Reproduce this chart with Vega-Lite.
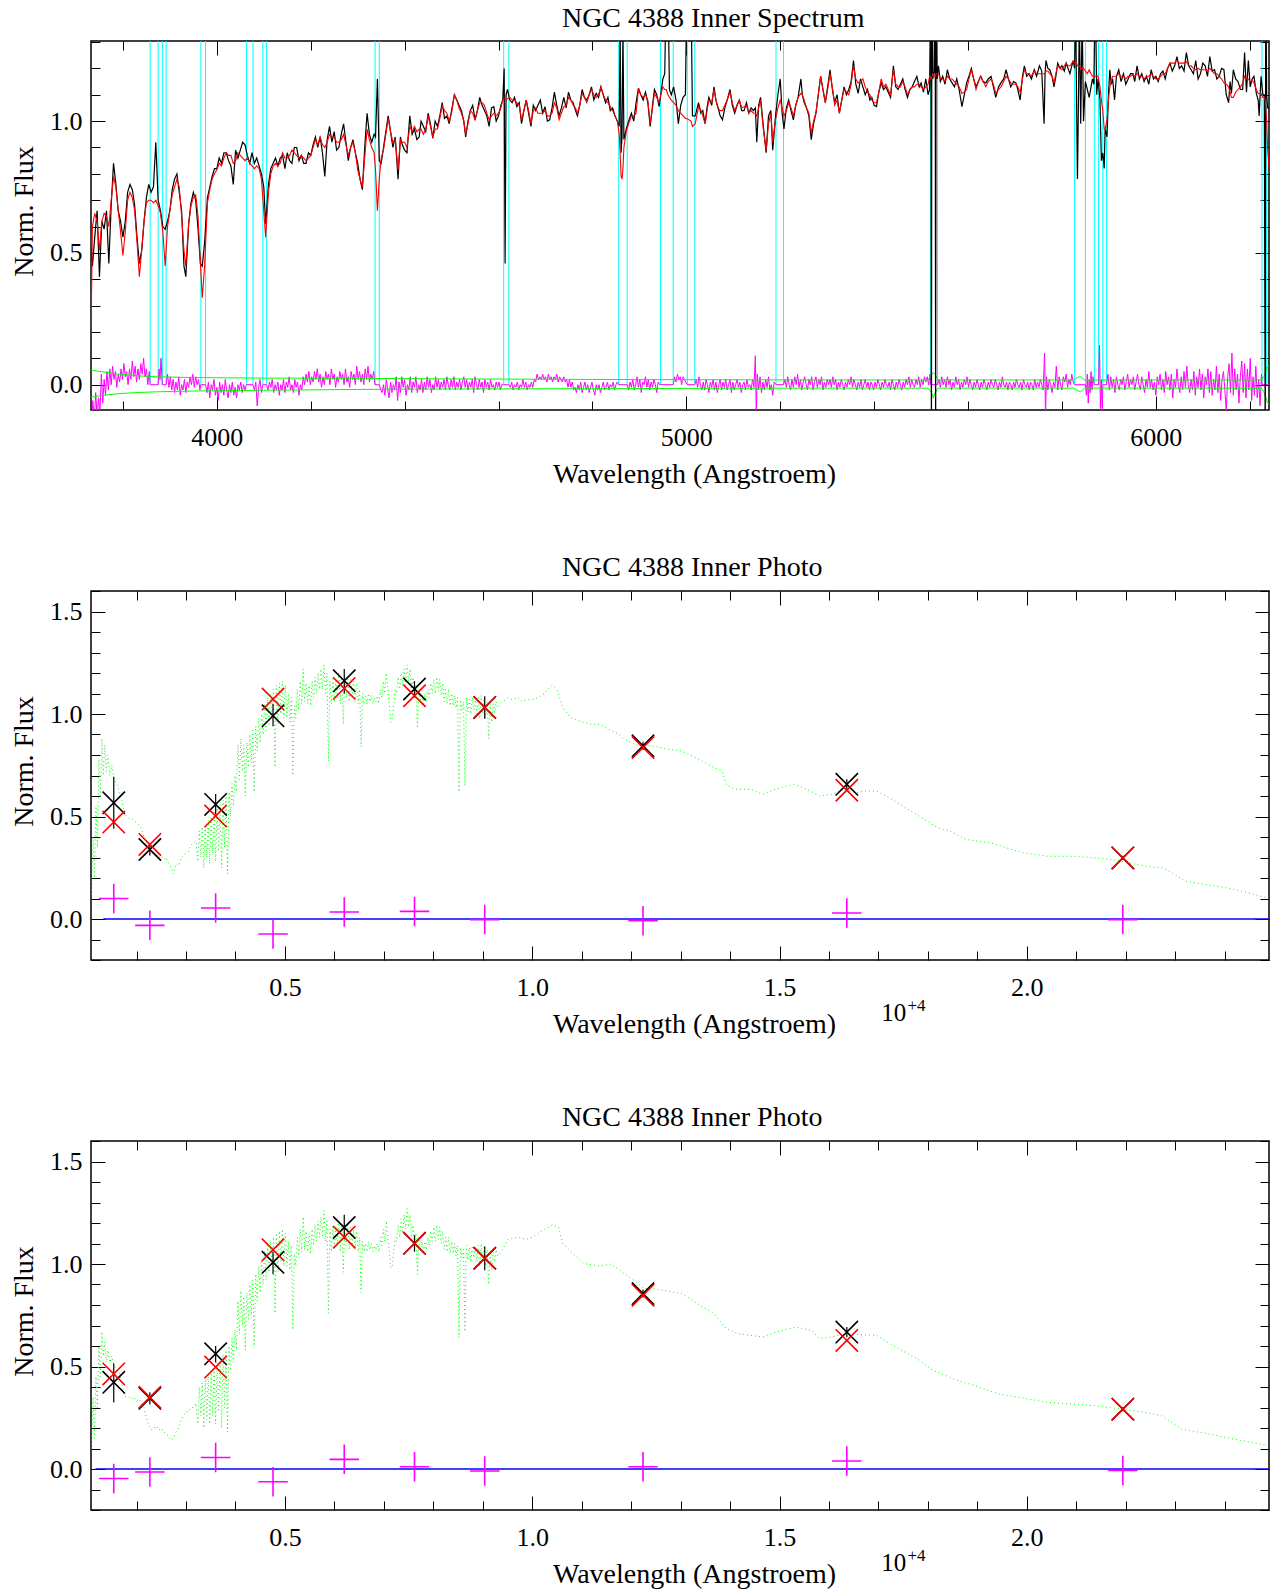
{
  "$schema": "https://vega.github.io/schema/vega-lite/v6.json",
  "padding": {"left": 9, "top": 3, "right": 8, "bottom": 0},
  "spacing": 181,
  "bounds": "flush",
  "config": {
    "font": "Liberation Serif",
    "view": {"stroke": "#000000", "strokeWidth": 1.5},
    "axis": {"domain": false, "grid": false, "minExtent": 0, "tickColor": "#000000", "tickWidth": 1, "labelFont": "Liberation Serif", "labelFontSize": 26, "labelColor": "#000000", "titleFont": "Liberation Serif", "titleFontSize": 28, "titleFontWeight": "normal", "titleColor": "#000000", "labelOverlap": false, "labelFlush": false, "labelBound": false},
    "text": {"font": "Liberation Serif", "color": "#000000"}
  },
  "datasets": {
    "spec": [
      {"w":3732,"o":0.52,"m":0.18},{"w":3735,"o":0.45,"m":0.60},{"w":3740,"o":0.56,"m":0.65},{"w":3745,"o":0.66,"m":0.62},{"w":3750,"o":0.41,"m":0.51},{"w":3755,"o":0.62,"m":0.62},{"w":3760,"o":0.59,"m":0.65},{"w":3765,"o":0.66,"m":0.64},{"w":3770,"o":0.46,"m":0.60},{"w":3775,"o":0.68,"m":0.70},{"w":3780,"o":0.84,"m":0.79},{"w":3785,"o":0.76,"m":0.75},{"w":3790,"o":0.66,"m":0.66},{"w":3795,"o":0.62,"m":0.58},{"w":3800,"o":0.56,"m":0.49},{"w":3805,"o":0.62,"m":0.58},{"w":3810,"o":0.73,"m":0.70},{"w":3815,"o":0.76,"m":0.73},{"w":3820,"o":0.74,"m":0.71},{"w":3825,"o":0.68,"m":0.66},{"w":3830,"o":0.56,"m":0.54},{"w":3835,"o":0.46,"m":0.41},{"w":3840,"o":0.51,"m":0.51},{"w":3845,"o":0.62,"m":0.62},{"w":3850,"o":0.71,"m":0.69},{"w":3855,"o":0.76,"m":0.70},{"w":3860,"o":0.73,"m":0.70},{"w":3865,"o":0.75,"m":0.69},{"w":3870,"o":0.92,"m":0.70},{"w":3875,"o":0.70,"m":0.68},{"w":3880,"o":0.66,"m":0.65},{"w":3885,"o":0.60,"m":0.58},{"w":3890,"o":0.59,"m":0.45},{"w":3895,"o":0.62,"m":0.60},{"w":3900,"o":0.66,"m":0.66},{"w":3905,"o":0.74,"m":0.72},{"w":3910,"o":0.78,"m":0.75},{"w":3915,"o":0.80,"m":0.78},{"w":3920,"o":0.73,"m":0.75},{"w":3925,"o":0.66,"m":0.64},{"w":3930,"o":0.45,"m":0.51},{"w":3934,"o":0.41,"m":0.45},{"w":3940,"o":0.61,"m":0.61},{"w":3945,"o":0.69,"m":0.68},{"w":3950,"o":0.73,"m":0.71},{"w":3955,"o":0.70,"m":0.72},{"w":3960,"o":0.59,"m":0.64},{"w":3965,"o":0.46,"m":0.46},{"w":3969,"o":0.45,"m":0.33},{"w":3974,"o":0.54,"m":0.45},{"w":3980,"o":0.71,"m":0.69},{"w":3985,"o":0.75,"m":0.74},{"w":3990,"o":0.79,"m":0.78},{"w":3995,"o":0.82,"m":0.80},{"w":4000,"o":0.82,"m":0.815},{"w":4005,"o":0.86,"m":0.84},{"w":4010,"o":0.84,"m":0.83},{"w":4015,"o":0.88,"m":0.86},{"w":4020,"o":0.88,"m":0.88},{"w":4025,"o":0.85,"m":0.87},{"w":4030,"o":0.83,"m":0.87},{"w":4035,"o":0.76,"m":0.84},{"w":4040,"o":0.89,"m":0.85},{"w":4045,"o":0.86,"m":0.88},{"w":4050,"o":0.89,"m":0.87},{"w":4055,"o":0.92,"m":0.86},{"w":4060,"o":0.91,"m":0.85},{"w":4065,"o":0.87,"m":0.86},{"w":4070,"o":0.84,"m":0.84},{"w":4075,"o":0.88,"m":0.83},{"w":4080,"o":0.84,"m":0.82},{"w":4085,"o":0.86,"m":0.83},{"w":4090,"o":0.83,"m":0.82},{"w":4095,"o":0.80,"m":0.78},{"w":4100,"o":0.75,"m":0.66},{"w":4104,"o":0.61,"m":0.56},{"w":4110,"o":0.76,"m":0.73},{"w":4115,"o":0.82,"m":0.80},{"w":4120,"o":0.84,"m":0.83},{"w":4125,"o":0.86,"m":0.84},{"w":4130,"o":0.83,"m":0.83},{"w":4135,"o":0.86,"m":0.84},{"w":4140,"o":0.87,"m":0.88},{"w":4145,"o":0.82,"m":0.86},{"w":4150,"o":0.88,"m":0.86},{"w":4155,"o":0.85,"m":0.87},{"w":4160,"o":0.84,"m":0.89},{"w":4165,"o":0.90,"m":0.88},{"w":4170,"o":0.90,"m":0.87},{"w":4175,"o":0.85,"m":0.86},{"w":4180,"o":0.87,"m":0.87},{"w":4185,"o":0.84,"m":0.86},{"w":4190,"o":0.84,"m":0.85},{"w":4195,"o":0.88,"m":0.86},{"w":4200,"o":0.87,"m":0.87},{"w":4205,"o":0.91,"m":0.90},{"w":4210,"o":0.94,"m":0.93},{"w":4215,"o":0.90,"m":0.91},{"w":4220,"o":0.94,"m":0.94},{"w":4225,"o":0.88,"m":0.91},{"w":4230,"o":0.79,"m":0.90},{"w":4235,"o":0.93,"m":0.92},{"w":4240,"o":0.98,"m":0.95},{"w":4245,"o":0.92,"m":0.94},{"w":4250,"o":0.96,"m":0.94},{"w":4255,"o":0.89,"m":0.92},{"w":4260,"o":0.90,"m":0.92},{"w":4265,"o":0.95,"m":0.93},{"w":4270,"o":0.99,"m":0.95},{"w":4275,"o":0.92,"m":0.91},{"w":4280,"o":0.85,"m":0.87},{"w":4285,"o":0.90,"m":0.90},{"w":4290,"o":0.93,"m":0.92},{"w":4295,"o":0.88,"m":0.88},{"w":4300,"o":0.84,"m":0.815},{"w":4305,"o":0.78,"m":0.78},{"w":4310,"o":0.74,"m":0.75},{"w":4315,"o":0.90,"m":0.86},{"w":4320,"o":1.03,"m":0.97},{"w":4325,"o":0.95,"m":0.93},{"w":4330,"o":0.92,"m":0.90},{"w":4335,"o":0.95,"m":0.88},{"w":4338,"o":0.94,"m":0.815},{"w":4342,"o":1.16,"m":0.66},{"w":4346,"o":0.85,"m":0.78},{"w":4350,"o":0.84,"m":0.86},{"w":4355,"o":0.90,"m":0.89},{"w":4360,"o":0.96,"m":0.95},{"w":4365,"o":1.02,"m":1.01},{"w":4370,"o":0.96,"m":0.96},{"w":4375,"o":0.90,"m":0.92},{"w":4380,"o":0.94,"m":0.93},{"w":4386,"o":0.78,"m":0.815},{"w":4391,"o":0.94,"m":0.93},{"w":4395,"o":0.91,"m":0.92},{"w":4400,"o":0.89,"m":0.92},{"w":4405,"o":0.88,"m":0.90},{"w":4411,"o":1.02,"m":0.98},{"w":4416,"o":0.95,"m":0.96},{"w":4421,"o":0.97,"m":0.98},{"w":4426,"o":0.93,"m":0.96},{"w":4431,"o":0.94,"m":0.97},{"w":4435,"o":1.00,"m":0.97},{"w":4440,"o":0.98,"m":0.95},{"w":4445,"o":0.96,"m":0.97},{"w":4450,"o":1.03,"m":1.02},{"w":4455,"o":0.99,"m":0.98},{"w":4460,"o":0.935,"m":0.94},{"w":4465,"o":1.00,"m":0.97},{"w":4470,"o":0.98,"m":0.97},{"w":4475,"o":1.02,"m":1.01},{"w":4480,"o":1.07,"m":1.06},{"w":4485,"o":1.01,"m":1.04},{"w":4490,"o":1.02,"m":1.03},{"w":4495,"o":0.99,"m":1.00},{"w":4500,"o":1.04,"m":1.03},{"w":4506,"o":1.10,"m":1.10},{"w":4511,"o":1.08,"m":1.08},{"w":4516,"o":1.06,"m":1.05},{"w":4521,"o":1.04,"m":1.03},{"w":4526,"o":1.00,"m":1.00},{"w":4530,"o":0.94,"m":0.95},{"w":4535,"o":1.00,"m":0.99},{"w":4540,"o":1.04,"m":1.04},{"w":4545,"o":1.06,"m":1.03},{"w":4550,"o":1.005,"m":1.005},{"w":4555,"o":1.04,"m":1.04},{"w":4560,"o":1.09,"m":1.07},{"w":4565,"o":1.06,"m":1.07},{"w":4570,"o":1.04,"m":1.06},{"w":4575,"o":1.02,"m":1.03},{"w":4580,"o":0.98,"m":1.005},{"w":4585,"o":1.05,"m":1.02},{"w":4590,"o":1.055,"m":1.03},{"w":4595,"o":1.00,"m":1.02},{"w":4600,"o":1.02,"m":1.03},{"w":4605,"o":1.06,"m":1.05},{"w":4609,"o":1.08,"m":1.08},{"w":4612,"o":1.20,"m":1.085},{"w":4614,"o":0.46,"m":1.085},{"w":4616,"o":1.10,"m":1.08},{"w":4619,"o":1.12,"m":1.085},{"w":4624,"o":1.08,"m":1.09},{"w":4629,"o":1.07,"m":1.08},{"w":4634,"o":1.09,"m":1.08},{"w":4639,"o":1.055,"m":1.07},{"w":4644,"o":1.07,"m":1.06},{"w":4649,"o":0.99,"m":1.005},{"w":4654,"o":1.04,"m":1.04},{"w":4659,"o":1.08,"m":1.08},{"w":4664,"o":1.03,"m":1.04},{"w":4669,"o":0.98,"m":0.99},{"w":4674,"o":1.06,"m":1.04},{"w":4679,"o":1.04,"m":1.05},{"w":4684,"o":1.06,"m":1.03},{"w":4689,"o":1.08,"m":1.03},{"w":4694,"o":1.03,"m":1.03},{"w":4699,"o":1.055,"m":1.04},{"w":4704,"o":1.00,"m":1.02},{"w":4709,"o":1.005,"m":1.02},{"w":4714,"o":1.05,"m":1.03},{"w":4719,"o":1.11,"m":1.07},{"w":4724,"o":1.06,"m":1.05},{"w":4729,"o":1.02,"m":1.005},{"w":4734,"o":1.05,"m":1.03},{"w":4739,"o":1.09,"m":1.055},{"w":4744,"o":1.05,"m":1.06},{"w":4749,"o":1.11,"m":1.09},{"w":4754,"o":1.08,"m":1.08},{"w":4759,"o":1.07,"m":1.06},{"w":4764,"o":1.04,"m":1.05},{"w":4768,"o":1.02,"m":1.03},{"w":4773,"o":1.06,"m":1.06},{"w":4778,"o":1.12,"m":1.105},{"w":4783,"o":1.09,"m":1.09},{"w":4788,"o":1.08,"m":1.07},{"w":4793,"o":1.10,"m":1.10},{"w":4798,"o":1.13,"m":1.12},{"w":4803,"o":1.08,"m":1.10},{"w":4808,"o":1.105,"m":1.09},{"w":4813,"o":1.09,"m":1.10},{"w":4818,"o":1.13,"m":1.13},{"w":4823,"o":1.10,"m":1.10},{"w":4828,"o":1.07,"m":1.08},{"w":4833,"o":1.09,"m":1.07},{"w":4838,"o":1.04,"m":1.055},{"w":4843,"o":1.05,"m":1.04},{"w":4848,"o":1.02,"m":1.02},{"w":4853,"o":1.00,"m":1.00},{"w":4857,"o":0.98,"m":0.95},{"w":4859,"o":1.35,"m":0.88},{"w":4861,"o":0.88,"m":0.79},{"w":4863,"o":0.94,"m":0.78},{"w":4865,"o":1.35,"m":0.82},{"w":4867,"o":0.93,"m":0.90},{"w":4872,"o":0.97,"m":0.96},{"w":4877,"o":1.00,"m":0.99},{"w":4883,"o":1.03,"m":1.02},{"w":4888,"o":1.00,"m":1.02},{"w":4893,"o":1.07,"m":1.03},{"w":4898,"o":1.125,"m":1.12},{"w":4903,"o":1.10,"m":1.10},{"w":4908,"o":1.08,"m":1.09},{"w":4913,"o":1.11,"m":1.10},{"w":4918,"o":1.07,"m":1.08},{"w":4923,"o":0.98,"m":0.99},{"w":4928,"o":1.06,"m":1.05},{"w":4932,"o":1.12,"m":1.105},{"w":4937,"o":1.10,"m":1.09},{"w":4942,"o":1.055,"m":1.07},{"w":4947,"o":1.12,"m":1.11},{"w":4950,"o":1.16,"m":1.13},{"w":4954,"o":1.18,"m":1.12},{"w":4957,"o":1.50,"m":1.12},{"w":4961,"o":1.50,"m":1.10},{"w":4964,"o":1.12,"m":1.09},{"w":4968,"o":1.10,"m":1.08},{"w":4973,"o":1.13,"m":1.07},{"w":4978,"o":1.08,"m":1.06},{"w":4983,"o":0.99,"m":1.04},{"w":4988,"o":1.06,"m":1.03},{"w":4993,"o":1.09,"m":1.02},{"w":4998,"o":1.10,"m":1.01},{"w":5001,"o":1.50,"m":1.01},{"w":5010,"o":1.50,"m":1.00},{"w":5013,"o":1.02,"m":0.98},{"w":5019,"o":1.02,"m":0.99},{"w":5026,"o":1.07,"m":1.055},{"w":5031,"o":1.03,"m":1.04},{"w":5035,"o":1.04,"m":1.02},{"w":5040,"o":0.99,"m":0.99},{"w":5044,"o":1.05,"m":1.04},{"w":5048,"o":1.09,"m":1.08},{"w":5054,"o":1.06,"m":1.07},{"w":5059,"o":1.13,"m":1.12},{"w":5063,"o":1.08,"m":1.08},{"w":5067,"o":1.055,"m":1.05},{"w":5072,"o":1.02,"m":1.04},{"w":5077,"o":1.005,"m":1.04},{"w":5082,"o":1.05,"m":1.06},{"w":5087,"o":1.08,"m":1.08},{"w":5093,"o":1.12,"m":1.11},{"w":5098,"o":1.06,"m":1.07},{"w":5103,"o":1.03,"m":1.04},{"w":5108,"o":1.06,"m":1.06},{"w":5113,"o":1.08,"m":1.08},{"w":5118,"o":1.04,"m":1.05},{"w":5123,"o":1.04,"m":1.055},{"w":5128,"o":1.07,"m":1.06},{"w":5133,"o":1.03,"m":1.03},{"w":5138,"o":1.05,"m":1.04},{"w":5143,"o":1.04,"m":1.03},{"w":5147,"o":1.05,"m":1.03},{"w":5150,"o":0.92,"m":1.02},{"w":5154,"o":1.06,"m":1.05},{"w":5158,"o":1.09,"m":1.08},{"w":5164,"o":0.98,"m":0.97},{"w":5170,"o":0.88,"m":0.89},{"w":5175,"o":1.02,"m":0.99},{"w":5180,"o":1.04,"m":1.03},{"w":5184,"o":0.89,"m":0.92},{"w":5190,"o":1.02,"m":1.005},{"w":5195,"o":1.10,"m":1.05},{"w":5200,"o":1.16,"m":1.08},{"w":5204,"o":1.03,"m":1.05},{"w":5208,"o":0.97,"m":1.02},{"w":5213,"o":1.05,"m":1.04},{"w":5218,"o":1.08,"m":1.07},{"w":5223,"o":1.04,"m":1.05},{"w":5228,"o":1.005,"m":1.02},{"w":5233,"o":1.06,"m":1.06},{"w":5238,"o":1.09,"m":1.09},{"w":5244,"o":1.16,"m":1.105},{"w":5247,"o":1.10,"m":1.10},{"w":5251,"o":1.07,"m":1.08},{"w":5256,"o":1.05,"m":1.05},{"w":5261,"o":1.02,"m":1.03},{"w":5266,"o":0.93,"m":0.955},{"w":5271,"o":0.99,"m":1.00},{"w":5276,"o":1.03,"m":1.03},{"w":5281,"o":1.10,"m":1.10},{"w":5286,"o":1.17,"m":1.17},{"w":5291,"o":1.12,"m":1.12},{"w":5296,"o":1.07,"m":1.07},{"w":5301,"o":1.13,"m":1.12},{"w":5306,"o":1.195,"m":1.18},{"w":5311,"o":1.12,"m":1.13},{"w":5316,"o":1.07,"m":1.06},{"w":5321,"o":1.10,"m":1.08},{"w":5326,"o":1.03,"m":1.03},{"w":5331,"o":1.08,"m":1.08},{"w":5336,"o":1.13,"m":1.12},{"w":5341,"o":1.10,"m":1.11},{"w":5346,"o":1.12,"m":1.10},{"w":5351,"o":1.15,"m":1.14},{"w":5356,"o":1.23,"m":1.21},{"w":5361,"o":1.14,"m":1.16},{"w":5366,"o":1.105,"m":1.145},{"w":5371,"o":1.16,"m":1.15},{"w":5376,"o":1.13,"m":1.16},{"w":5381,"o":1.10,"m":1.13},{"w":5386,"o":1.12,"m":1.11},{"w":5391,"o":1.08,"m":1.10},{"w":5395,"o":1.09,"m":1.08},{"w":5400,"o":1.06,"m":1.07},{"w":5405,"o":1.055,"m":1.07},{"w":5410,"o":1.11,"m":1.11},{"w":5415,"o":1.145,"m":1.16},{"w":5420,"o":1.12,"m":1.13},{"w":5425,"o":1.13,"m":1.14},{"w":5430,"o":1.11,"m":1.12},{"w":5435,"o":1.09,"m":1.10},{"w":5441,"o":1.21,"m":1.195},{"w":5446,"o":1.13,"m":1.14},{"w":5451,"o":1.12,"m":1.13},{"w":5456,"o":1.14,"m":1.13},{"w":5461,"o":1.16,"m":1.15},{"w":5466,"o":1.12,"m":1.13},{"w":5471,"o":1.09,"m":1.10},{"w":5476,"o":1.12,"m":1.12},{"w":5481,"o":1.13,"m":1.13},{"w":5486,"o":1.15,"m":1.13},{"w":5491,"o":1.17,"m":1.14},{"w":5496,"o":1.13,"m":1.14},{"w":5500,"o":1.145,"m":1.13},{"w":5505,"o":1.11,"m":1.12},{"w":5510,"o":1.16,"m":1.13},{"w":5515,"o":1.10,"m":1.14},{"w":5518,"o":1.12,"m":1.17},{"w":5521,"o":1.60,"m":1.16},{"w":5522,"o":-0.30,"m":1.16},{"w":5523,"o":1.60,"m":1.17},{"w":5525,"o":1.16,"m":1.18},{"w":5528,"o":1.19,"m":1.17},{"w":5530,"o":1.60,"m":1.17},{"w":5531,"o":-0.30,"m":1.17},{"w":5532,"o":1.60,"m":1.18},{"w":5534,"o":1.16,"m":1.18},{"w":5537,"o":1.21,"m":1.18},{"w":5541,"o":1.15,"m":1.16},{"w":5546,"o":1.17,"m":1.16},{"w":5551,"o":1.14,"m":1.15},{"w":5556,"o":1.195,"m":1.17},{"w":5561,"o":1.16,"m":1.16},{"w":5566,"o":1.145,"m":1.16},{"w":5571,"o":1.13,"m":1.15},{"w":5576,"o":1.16,"m":1.14},{"w":5581,"o":1.12,"m":1.13},{"w":5587,"o":1.055,"m":1.105},{"w":5592,"o":1.10,"m":1.11},{"w":5597,"o":1.145,"m":1.12},{"w":5602,"o":1.17,"m":1.16},{"w":5607,"o":1.20,"m":1.195},{"w":5612,"o":1.16,"m":1.16},{"w":5617,"o":1.13,"m":1.12},{"w":5622,"o":1.15,"m":1.15},{"w":5627,"o":1.17,"m":1.17},{"w":5632,"o":1.15,"m":1.15},{"w":5638,"o":1.145,"m":1.13},{"w":5643,"o":1.16,"m":1.15},{"w":5649,"o":1.17,"m":1.16},{"w":5654,"o":1.13,"m":1.14},{"w":5659,"o":1.09,"m":1.105},{"w":5665,"o":1.13,"m":1.12},{"w":5670,"o":1.145,"m":1.13},{"w":5676,"o":1.16,"m":1.15},{"w":5681,"o":1.195,"m":1.17},{"w":5686,"o":1.16,"m":1.16},{"w":5691,"o":1.13,"m":1.145},{"w":5697,"o":1.15,"m":1.14},{"w":5702,"o":1.145,"m":1.14},{"w":5706,"o":1.12,"m":1.13},{"w":5711,"o":1.08,"m":1.11},{"w":5716,"o":1.17,"m":1.16},{"w":5720,"o":1.21,"m":1.195},{"w":5725,"o":1.17,"m":1.18},{"w":5730,"o":1.18,"m":1.18},{"w":5735,"o":1.16,"m":1.17},{"w":5741,"o":1.195,"m":1.19},{"w":5746,"o":1.17,"m":1.18},{"w":5752,"o":1.21,"m":1.18},{"w":5757,"o":1.19,"m":1.18},{"w":5762,"o":0.99,"m":1.18},{"w":5764,"o":1.18,"m":1.18},{"w":5766,"o":1.23,"m":1.19},{"w":5770,"o":1.20,"m":1.19},{"w":5774,"o":1.195,"m":1.18},{"w":5779,"o":1.17,"m":1.17},{"w":5783,"o":1.13,"m":1.145},{"w":5787,"o":1.17,"m":1.18},{"w":5791,"o":1.22,"m":1.21},{"w":5796,"o":1.20,"m":1.20},{"w":5800,"o":1.21,"m":1.195},{"w":5805,"o":1.19,"m":1.21},{"w":5809,"o":1.22,"m":1.22},{"w":5813,"o":1.20,"m":1.21},{"w":5817,"o":1.18,"m":1.21},{"w":5821,"o":1.21,"m":1.22},{"w":5824,"o":1.23,"m":1.225},{"w":5827,"o":1.20,"m":1.22},{"w":5829,"o":1.50,"m":1.22},{"w":5831,"o":1.10,"m":1.22},{"w":5833,"o":0.78,"m":1.21},{"w":5835,"o":1.05,"m":1.21},{"w":5837,"o":1.40,"m":1.21},{"w":5840,"o":0.99,"m":1.20},{"w":5843,"o":1.40,"m":1.20},{"w":5846,"o":1.00,"m":1.20},{"w":5850,"o":1.15,"m":1.19},{"w":5854,"o":1.12,"m":1.18},{"w":5858,"o":1.09,"m":1.195},{"w":5862,"o":1.13,"m":1.18},{"w":5865,"o":1.16,"m":1.17},{"w":5868,"o":1.14,"m":1.17},{"w":5871,"o":1.50,"m":1.17},{"w":5874,"o":1.10,"m":1.17},{"w":5877,"o":1.16,"m":1.17},{"w":5881,"o":1.08,"m":1.13},{"w":5884,"o":0.85,"m":1.08},{"w":5887,"o":0.88,"m":1.04},{"w":5890,"o":0.82,"m":0.97},{"w":5892,"o":0.97,"m":0.97},{"w":5896,"o":0.94,"m":1.005},{"w":5899,"o":1.10,"m":1.08},{"w":5902,"o":1.195,"m":1.13},{"w":5905,"o":1.14,"m":1.15},{"w":5908,"o":1.16,"m":1.17},{"w":5912,"o":1.08,"m":1.17},{"w":5916,"o":1.17,"m":1.17},{"w":5921,"o":1.195,"m":1.18},{"w":5926,"o":1.15,"m":1.17},{"w":5931,"o":1.18,"m":1.17},{"w":5936,"o":1.14,"m":1.16},{"w":5941,"o":1.16,"m":1.17},{"w":5946,"o":1.18,"m":1.17},{"w":5951,"o":1.18,"m":1.175},{"w":5955,"o":1.15,"m":1.17},{"w":5960,"o":1.21,"m":1.18},{"w":5965,"o":1.16,"m":1.17},{"w":5970,"o":1.18,"m":1.17},{"w":5975,"o":1.15,"m":1.16},{"w":5980,"o":1.17,"m":1.17},{"w":5985,"o":1.14,"m":1.17},{"w":5990,"o":1.195,"m":1.18},{"w":5995,"o":1.16,"m":1.17},{"w":6000,"o":1.17,"m":1.16},{"w":6005,"o":1.15,"m":1.16},{"w":6010,"o":1.18,"m":1.17},{"w":6015,"o":1.19,"m":1.18},{"w":6020,"o":1.16,"m":1.18},{"w":6025,"o":1.20,"m":1.20},{"w":6030,"o":1.22,"m":1.22},{"w":6035,"o":1.19,"m":1.22},{"w":6040,"o":1.21,"m":1.22},{"w":6045,"o":1.245,"m":1.23},{"w":6050,"o":1.20,"m":1.22},{"w":6055,"o":1.21,"m":1.22},{"w":6060,"o":1.19,"m":1.22},{"w":6065,"o":1.26,"m":1.225},{"w":6070,"o":1.21,"m":1.21},{"w":6075,"o":1.195,"m":1.21},{"w":6080,"o":1.18,"m":1.20},{"w":6085,"o":1.23,"m":1.195},{"w":6090,"o":1.16,"m":1.20},{"w":6095,"o":1.18,"m":1.195},{"w":6100,"o":1.22,"m":1.195},{"w":6105,"o":1.21,"m":1.195},{"w":6110,"o":1.17,"m":1.19},{"w":6115,"o":1.245,"m":1.20},{"w":6120,"o":1.19,"m":1.19},{"w":6125,"o":1.195,"m":1.18},{"w":6130,"o":1.16,"m":1.18},{"w":6135,"o":1.17,"m":1.17},{"w":6140,"o":1.20,"m":1.16},{"w":6145,"o":1.195,"m":1.145},{"w":6150,"o":1.10,"m":1.14},{"w":6155,"o":1.07,"m":1.13},{"w":6158,"o":1.15,"m":1.11},{"w":6161,"o":1.105,"m":1.09},{"w":6165,"o":1.195,"m":1.09},{"w":6170,"o":1.16,"m":1.11},{"w":6175,"o":1.15,"m":1.12},{"w":6180,"o":1.12,"m":1.13},{"w":6185,"o":1.12,"m":1.145},{"w":6189,"o":1.26,"m":1.17},{"w":6193,"o":1.11,"m":1.16},{"w":6197,"o":1.23,"m":1.16},{"w":6201,"o":1.13,"m":1.15},{"w":6205,"o":1.16,"m":1.155},{"w":6209,"o":1.17,"m":1.145},{"w":6214,"o":1.105,"m":1.12},{"w":6218,"o":1.08,"m":1.105},{"w":6220,"o":1.02,"m":1.105},{"w":6224,"o":1.17,"m":1.105},{"w":6228,"o":1.10,"m":1.09},{"w":6231,"o":1.10,"m":1.09},{"w":6233,"o":-0.30,"m":1.08},{"w":6234,"o":1.60,"m":1.06},{"w":6236,"o":1.10,"m":1.00},{"w":6238,"o":1.05,"m":0.90},{"w":6241,"o":1.05,"m":0.82}
    ],
    "res": [
      {"w":3733,"r":-0.15},{"w":3736,"r":-0.06},{"w":3739,"r":-0.14},{"w":3742,"r":-0.03},{"w":3745,"r":-0.12},{"w":3748,"r":-0.05},{"w":3751,"r":-0.11},{"w":3754,"r":0.04},{"w":3757,"r":-0.07},{"w":3760,"r":0.02},{"w":3763,"r":-0.04},{"w":3766,"r":0.05},{"w":3769,"r":-0.02},{"w":3772,"r":0.06},{"w":3775,"r":0.0},{"w":3778,"r":0.07},{"w":3781,"r":0.02},{"w":3784,"r":0.05},{"w":3787,"r":-0.01},{"w":3790,"r":0.04},{"w":3793,"r":0.01},{"w":3796,"r":0.06},{"w":3799,"r":0.02},{"w":3802,"r":0.08},{"w":3805,"r":0.03},{"w":3808,"r":0.05},{"w":3811,"r":0.0},{"w":3814,"r":0.06},{"w":3817,"r":0.02},{"w":3820,"r":0.09},{"w":3823,"r":0.03},{"w":3826,"r":0.07},{"w":3829,"r":0.01},{"w":3832,"r":0.06},{"w":3835,"r":0.02},{"w":3838,"r":0.08},{"w":3841,"r":0.04},{"w":3844,"r":0.10},{"w":3847,"r":0.03},{"w":3850,"r":0.06},{"w":3853,"r":0.0},{"w":3856,"r":0.05},{"w":3858,"r":0.0},{"w":3875,"r":0.0},{"w":3877,"r":0.06},{"w":3879,"r":0.02},{"w":3881,"r":0.10},{"w":3883,"r":0.03},{"w":3884,"r":0.0},{"w":3892,"r":0.0},{"w":3895,"r":0.04},{"w":3898,"r":-0.01},{"w":3901,"r":0.03},{"w":3904,"r":-0.02},{"w":3907,"r":0.02},{"w":3910,"r":-0.03},{"w":3913,"r":0.01},{"w":3916,"r":-0.02},{"w":3919,"r":0.03},{"w":3922,"r":-0.04},{"w":3925,"r":0.0},{"w":3928,"r":-0.02},{"w":3931,"r":0.02},{"w":3934,"r":-0.03},{"w":3937,"r":0.01},{"w":3940,"r":-0.01},{"w":3943,"r":0.03},{"w":3946,"r":0.0},{"w":3949,"r":0.04},{"w":3952,"r":-0.01},{"w":3955,"r":0.03},{"w":3958,"r":0.0},{"w":3961,"r":0.02},{"w":3964,"r":-0.02},{"w":3966,"r":0.0},{"w":3976,"r":0.0},{"w":3979,"r":-0.03},{"w":3982,"r":0.01},{"w":3985,"r":-0.05},{"w":3988,"r":0.0},{"w":3991,"r":-0.02},{"w":3994,"r":0.02},{"w":3997,"r":-0.04},{"w":4000,"r":-0.01},{"w":4003,"r":-0.06},{"w":4006,"r":0.01},{"w":4009,"r":-0.03},{"w":4012,"r":0.0},{"w":4015,"r":-0.04},{"w":4018,"r":0.02},{"w":4021,"r":-0.02},{"w":4024,"r":-0.05},{"w":4027,"r":0.0},{"w":4030,"r":-0.03},{"w":4033,"r":0.01},{"w":4036,"r":-0.04},{"w":4039,"r":-0.01},{"w":4042,"r":-0.05},{"w":4045,"r":0.0},{"w":4048,"r":-0.02},{"w":4051,"r":0.01},{"w":4054,"r":-0.03},{"w":4057,"r":0.0},{"w":4060,"r":-0.02},{"w":4063,"r":0.0},{"w":4077,"r":0.0},{"w":4080,"r":-0.02},{"w":4083,"r":0.01},{"w":4086,"r":-0.08},{"w":4089,"r":-0.01},{"w":4092,"r":0.02},{"w":4095,"r":-0.03},{"w":4098,"r":0.0},{"w":4106,"r":0.0},{"w":4109,"r":-0.02},{"w":4112,"r":0.01},{"w":4115,"r":-0.01},{"w":4118,"r":0.02},{"w":4121,"r":-0.03},{"w":4124,"r":0.0},{"w":4127,"r":-0.02},{"w":4130,"r":0.01},{"w":4133,"r":-0.04},{"w":4136,"r":0.0},{"w":4139,"r":-0.02},{"w":4142,"r":0.02},{"w":4145,"r":-0.03},{"w":4148,"r":0.01},{"w":4151,"r":-0.01},{"w":4154,"r":0.03},{"w":4157,"r":-0.02},{"w":4160,"r":0.0},{"w":4163,"r":-0.03},{"w":4166,"r":0.02},{"w":4169,"r":-0.01},{"w":4172,"r":0.01},{"w":4175,"r":-0.04},{"w":4178,"r":0.0},{"w":4181,"r":-0.02},{"w":4184,"r":0.03},{"w":4187,"r":0.0},{"w":4190,"r":0.04},{"w":4193,"r":0.01},{"w":4196,"r":0.05},{"w":4199,"r":0.0},{"w":4202,"r":0.03},{"w":4205,"r":0.01},{"w":4208,"r":0.05},{"w":4211,"r":0.02},{"w":4214,"r":0.06},{"w":4217,"r":0.01},{"w":4220,"r":0.04},{"w":4223,"r":-0.01},{"w":4226,"r":0.03},{"w":4229,"r":0.0},{"w":4232,"r":0.05},{"w":4235,"r":0.02},{"w":4238,"r":0.04},{"w":4241,"r":0.0},{"w":4244,"r":0.06},{"w":4247,"r":0.02},{"w":4250,"r":0.04},{"w":4253,"r":-0.01},{"w":4256,"r":0.03},{"w":4259,"r":0.01},{"w":4262,"r":0.05},{"w":4265,"r":0.02},{"w":4268,"r":0.04},{"w":4271,"r":0.0},{"w":4274,"r":0.06},{"w":4277,"r":0.01},{"w":4280,"r":0.03},{"w":4283,"r":-0.01},{"w":4286,"r":0.05},{"w":4289,"r":0.02},{"w":4292,"r":0.04},{"w":4295,"r":0.0},{"w":4298,"r":0.07},{"w":4301,"r":0.02},{"w":4304,"r":0.05},{"w":4307,"r":0.01},{"w":4310,"r":0.04},{"w":4313,"r":0.0},{"w":4316,"r":0.06},{"w":4319,"r":0.02},{"w":4322,"r":0.07},{"w":4325,"r":0.01},{"w":4328,"r":0.04},{"w":4331,"r":0.02},{"w":4334,"r":0.05},{"w":4337,"r":0.0},{"w":4346,"r":0.0},{"w":4349,"r":-0.02},{"w":4352,"r":-0.03},{"w":4355,"r":0.0},{"w":4358,"r":-0.04},{"w":4361,"r":0.02},{"w":4364,"r":-0.02},{"w":4367,"r":-0.05},{"w":4370,"r":0.01},{"w":4373,"r":-0.03},{"w":4376,"r":0.0},{"w":4379,"r":-0.02},{"w":4382,"r":0.03},{"w":4385,"r":-0.06},{"w":4388,"r":0.01},{"w":4391,"r":-0.03},{"w":4394,"r":0.03},{"w":4397,"r":-0.01},{"w":4400,"r":0.02},{"w":4403,"r":-0.04},{"w":4406,"r":0.0},{"w":4409,"r":-0.02},{"w":4412,"r":0.03},{"w":4415,"r":-0.03},{"w":4418,"r":0.01},{"w":4421,"r":-0.01},{"w":4424,"r":0.03},{"w":4427,"r":-0.03},{"w":4430,"r":0.0},{"w":4433,"r":-0.02},{"w":4436,"r":0.02},{"w":4439,"r":-0.03},{"w":4442,"r":0.01},{"w":4445,"r":-0.02},{"w":4448,"r":0.03},{"w":4451,"r":-0.01},{"w":4454,"r":0.02},{"w":4457,"r":-0.03},{"w":4460,"r":0.0},{"w":4463,"r":-0.02},{"w":4466,"r":0.03},{"w":4469,"r":-0.01},{"w":4472,"r":0.02},{"w":4475,"r":-0.02},{"w":4478,"r":0.01},{"w":4481,"r":-0.01},{"w":4484,"r":0.02},{"w":4487,"r":-0.02},{"w":4490,"r":0.03},{"w":4493,"r":0.0},{"w":4496,"r":-0.02},{"w":4499,"r":0.02},{"w":4502,"r":-0.01},{"w":4505,"r":0.03},{"w":4508,"r":-0.02},{"w":4511,"r":0.01},{"w":4514,"r":-0.01},{"w":4517,"r":0.02},{"w":4520,"r":-0.02},{"w":4523,"r":0.01},{"w":4526,"r":0.03},{"w":4529,"r":-0.01},{"w":4532,"r":0.02},{"w":4535,"r":-0.02},{"w":4538,"r":0.01},{"w":4541,"r":-0.01},{"w":4544,"r":0.02},{"w":4547,"r":-0.03},{"w":4550,"r":0.03},{"w":4553,"r":0.0},{"w":4556,"r":-0.02},{"w":4559,"r":0.02},{"w":4562,"r":-0.01},{"w":4565,"r":0.01},{"w":4568,"r":-0.03},{"w":4571,"r":0.02},{"w":4574,"r":-0.01},{"w":4577,"r":0.01},{"w":4580,"r":-0.02},{"w":4583,"r":0.02},{"w":4586,"r":-0.01},{"w":4589,"r":0.0},{"w":4592,"r":-0.02},{"w":4595,"r":0.01},{"w":4598,"r":-0.01},{"w":4601,"r":0.01},{"w":4604,"r":-0.02},{"w":4607,"r":0.0},{"w":4611,"r":0.0},{"w":4622,"r":0.0},{"w":4625,"r":-0.01},{"w":4628,"r":0.01},{"w":4631,"r":-0.02},{"w":4634,"r":0.0},{"w":4637,"r":-0.01},{"w":4640,"r":0.01},{"w":4643,"r":-0.02},{"w":4646,"r":0.0},{"w":4649,"r":-0.01},{"w":4652,"r":0.02},{"w":4655,"r":-0.01},{"w":4658,"r":0.01},{"w":4661,"r":-0.02},{"w":4664,"r":0.0},{"w":4667,"r":-0.01},{"w":4670,"r":0.01},{"w":4673,"r":-0.01},{"w":4676,"r":0.02},{"w":4679,"r":0.01},{"w":4682,"r":0.04},{"w":4685,"r":0.02},{"w":4688,"r":0.03},{"w":4691,"r":0.02},{"w":4694,"r":0.04},{"w":4697,"r":0.02},{"w":4700,"r":0.03},{"w":4703,"r":0.01},{"w":4706,"r":0.04},{"w":4709,"r":0.02},{"w":4712,"r":0.03},{"w":4715,"r":0.01},{"w":4718,"r":0.03},{"w":4721,"r":0.02},{"w":4724,"r":0.04},{"w":4727,"r":0.01},{"w":4730,"r":0.03},{"w":4733,"r":0.02},{"w":4736,"r":0.01},{"w":4739,"r":0.03},{"w":4742,"r":0.01},{"w":4745,"r":0.02},{"w":4748,"r":-0.01},{"w":4751,"r":0.02},{"w":4754,"r":-0.01},{"w":4757,"r":0.01},{"w":4760,"r":-0.02},{"w":4763,"r":-0.01},{"w":4766,"r":-0.03},{"w":4769,"r":0.0},{"w":4772,"r":-0.02},{"w":4775,"r":0.01},{"w":4778,"r":-0.03},{"w":4781,"r":-0.01},{"w":4784,"r":0.01},{"w":4787,"r":-0.02},{"w":4790,"r":0.0},{"w":4793,"r":-0.03},{"w":4796,"r":-0.01},{"w":4799,"r":0.01},{"w":4802,"r":-0.02},{"w":4805,"r":-0.04},{"w":4808,"r":0.0},{"w":4811,"r":-0.02},{"w":4814,"r":0.0},{"w":4817,"r":-0.03},{"w":4820,"r":-0.01},{"w":4823,"r":0.01},{"w":4826,"r":-0.02},{"w":4829,"r":-0.01},{"w":4832,"r":0.01},{"w":4835,"r":-0.02},{"w":4838,"r":0.0},{"w":4841,"r":-0.01},{"w":4844,"r":0.01},{"w":4847,"r":-0.02},{"w":4850,"r":0.0},{"w":4853,"r":0.01},{"w":4856,"r":0.0},{"w":4874,"r":0.0},{"w":4877,"r":-0.02},{"w":4880,"r":0.01},{"w":4883,"r":-0.01},{"w":4886,"r":0.02},{"w":4889,"r":-0.02},{"w":4892,"r":0.0},{"w":4895,"r":0.03},{"w":4898,"r":-0.01},{"w":4901,"r":0.02},{"w":4904,"r":-0.03},{"w":4907,"r":0.01},{"w":4910,"r":0.0},{"w":4913,"r":0.03},{"w":4916,"r":-0.01},{"w":4919,"r":0.02},{"w":4922,"r":-0.02},{"w":4925,"r":0.01},{"w":4928,"r":-0.01},{"w":4931,"r":0.02},{"w":4934,"r":0.0},{"w":4937,"r":-0.03},{"w":4940,"r":0.01},{"w":4943,"r":0.0},{"w":4945,"r":0.0},{"w":4972,"r":0.0},{"w":4975,"r":0.03},{"w":4978,"r":0.01},{"w":4981,"r":0.04},{"w":4984,"r":0.02},{"w":4987,"r":0.03},{"w":4990,"r":0.0},{"w":4993,"r":0.03},{"w":4996,"r":0.02},{"w":4999,"r":0.01},{"w":5002,"r":0.0},{"w":5018,"r":0.0},{"w":5021,"r":0.02},{"w":5024,"r":-0.01},{"w":5027,"r":0.03},{"w":5030,"r":0.0},{"w":5033,"r":-0.02},{"w":5036,"r":0.01},{"w":5039,"r":-0.02},{"w":5042,"r":0.02},{"w":5045,"r":0.0},{"w":5048,"r":-0.03},{"w":5051,"r":0.01},{"w":5054,"r":-0.01},{"w":5057,"r":0.02},{"w":5060,"r":-0.02},{"w":5063,"r":0.01},{"w":5066,"r":-0.03},{"w":5069,"r":0.0},{"w":5072,"r":0.02},{"w":5075,"r":-0.02},{"w":5078,"r":0.01},{"w":5081,"r":-0.01},{"w":5084,"r":0.02},{"w":5087,"r":-0.02},{"w":5090,"r":0.0},{"w":5093,"r":0.02},{"w":5096,"r":-0.03},{"w":5099,"r":0.01},{"w":5102,"r":-0.02},{"w":5105,"r":0.0},{"w":5108,"r":0.02},{"w":5111,"r":-0.01},{"w":5114,"r":0.01},{"w":5117,"r":-0.03},{"w":5120,"r":0.0},{"w":5123,"r":0.01},{"w":5126,"r":-0.02},{"w":5129,"r":0.02},{"w":5132,"r":-0.01},{"w":5135,"r":0.0},{"w":5138,"r":-0.02},{"w":5141,"r":0.02},{"w":5144,"r":-0.01},{"w":5147,"r":0.11},{"w":5149,"r":-0.12},{"w":5151,"r":0.04},{"w":5154,"r":-0.02},{"w":5157,"r":0.03},{"w":5160,"r":-0.03},{"w":5163,"r":0.01},{"w":5166,"r":-0.02},{"w":5169,"r":0.02},{"w":5172,"r":-0.01},{"w":5175,"r":0.03},{"w":5178,"r":-0.02},{"w":5181,"r":0.0},{"w":5184,"r":-0.04},{"w":5187,"r":0.01},{"w":5191,"r":0.0},{"w":5207,"r":0.0},{"w":5210,"r":0.02},{"w":5213,"r":-0.01},{"w":5216,"r":0.03},{"w":5219,"r":0.0},{"w":5222,"r":-0.02},{"w":5225,"r":0.02},{"w":5228,"r":-0.01},{"w":5231,"r":0.03},{"w":5234,"r":0.0},{"w":5237,"r":0.04},{"w":5240,"r":-0.01},{"w":5243,"r":0.02},{"w":5246,"r":-0.02},{"w":5249,"r":0.01},{"w":5252,"r":0.03},{"w":5255,"r":0.0},{"w":5258,"r":-0.02},{"w":5261,"r":0.02},{"w":5264,"r":0.0},{"w":5267,"r":0.03},{"w":5270,"r":-0.02},{"w":5273,"r":0.01},{"w":5276,"r":0.03},{"w":5279,"r":-0.01},{"w":5282,"r":0.02},{"w":5285,"r":0.0},{"w":5288,"r":0.03},{"w":5291,"r":-0.02},{"w":5294,"r":0.01},{"w":5297,"r":-0.01},{"w":5300,"r":0.02},{"w":5303,"r":0.0},{"w":5306,"r":0.02},{"w":5309,"r":-0.01},{"w":5312,"r":0.03},{"w":5315,"r":0.0},{"w":5318,"r":0.02},{"w":5321,"r":-0.02},{"w":5324,"r":0.01},{"w":5327,"r":-0.01},{"w":5330,"r":0.02},{"w":5333,"r":0.0},{"w":5336,"r":-0.02},{"w":5339,"r":0.01},{"w":5342,"r":-0.01},{"w":5345,"r":0.02},{"w":5348,"r":0.0},{"w":5351,"r":0.03},{"w":5354,"r":-0.01},{"w":5357,"r":0.02},{"w":5360,"r":0.0},{"w":5363,"r":-0.02},{"w":5366,"r":0.01},{"w":5369,"r":-0.01},{"w":5372,"r":0.02},{"w":5375,"r":-0.02},{"w":5378,"r":0.0},{"w":5381,"r":0.02},{"w":5384,"r":-0.01},{"w":5387,"r":0.01},{"w":5390,"r":-0.02},{"w":5393,"r":0.01},{"w":5396,"r":0.0},{"w":5399,"r":-0.02},{"w":5402,"r":0.01},{"w":5405,"r":-0.01},{"w":5408,"r":0.02},{"w":5411,"r":0.0},{"w":5414,"r":-0.02},{"w":5417,"r":0.01},{"w":5420,"r":-0.01},{"w":5423,"r":0.02},{"w":5426,"r":0.0},{"w":5429,"r":-0.01},{"w":5432,"r":0.01},{"w":5435,"r":-0.02},{"w":5438,"r":0.02},{"w":5441,"r":0.0},{"w":5444,"r":-0.02},{"w":5447,"r":0.01},{"w":5450,"r":-0.01},{"w":5453,"r":0.02},{"w":5456,"r":0.0},{"w":5459,"r":-0.02},{"w":5462,"r":0.01},{"w":5465,"r":-0.01},{"w":5468,"r":0.02},{"w":5471,"r":0.0},{"w":5474,"r":0.03},{"w":5477,"r":-0.01},{"w":5480,"r":0.02},{"w":5483,"r":0.0},{"w":5486,"r":-0.01},{"w":5489,"r":0.02},{"w":5492,"r":0.0},{"w":5495,"r":0.03},{"w":5498,"r":-0.01},{"w":5501,"r":0.02},{"w":5504,"r":0.0},{"w":5507,"r":0.03},{"w":5510,"r":0.01},{"w":5513,"r":0.03},{"w":5516,"r":0.0},{"w":5519,"r":0.04},{"w":5520,"r":0.0},{"w":5535,"r":0.0},{"w":5538,"r":0.02},{"w":5541,"r":-0.01},{"w":5544,"r":0.03},{"w":5547,"r":0.0},{"w":5550,"r":0.02},{"w":5553,"r":-0.01},{"w":5556,"r":0.03},{"w":5559,"r":0.0},{"w":5562,"r":0.02},{"w":5565,"r":-0.02},{"w":5568,"r":0.01},{"w":5571,"r":-0.01},{"w":5574,"r":0.03},{"w":5577,"r":0.0},{"w":5580,"r":0.02},{"w":5583,"r":-0.02},{"w":5586,"r":0.01},{"w":5589,"r":-0.01},{"w":5592,"r":0.02},{"w":5595,"r":0.0},{"w":5598,"r":0.03},{"w":5601,"r":-0.01},{"w":5604,"r":0.02},{"w":5607,"r":0.0},{"w":5610,"r":-0.02},{"w":5613,"r":0.01},{"w":5616,"r":-0.01},{"w":5619,"r":0.02},{"w":5622,"r":0.0},{"w":5625,"r":-0.02},{"w":5628,"r":0.01},{"w":5631,"r":-0.01},{"w":5634,"r":0.02},{"w":5637,"r":0.0},{"w":5640,"r":-0.02},{"w":5643,"r":0.01},{"w":5646,"r":-0.01},{"w":5649,"r":0.02},{"w":5652,"r":0.0},{"w":5655,"r":-0.01},{"w":5658,"r":0.02},{"w":5661,"r":0.0},{"w":5664,"r":-0.02},{"w":5667,"r":0.01},{"w":5670,"r":-0.01},{"w":5673,"r":0.03},{"w":5676,"r":0.0},{"w":5679,"r":-0.01},{"w":5682,"r":0.01},{"w":5685,"r":-0.02},{"w":5688,"r":0.01},{"w":5691,"r":0.0},{"w":5694,"r":-0.02},{"w":5697,"r":0.01},{"w":5700,"r":-0.01},{"w":5703,"r":0.02},{"w":5706,"r":0.0},{"w":5709,"r":-0.01},{"w":5712,"r":0.01},{"w":5715,"r":-0.02},{"w":5718,"r":0.02},{"w":5721,"r":0.0},{"w":5724,"r":-0.01},{"w":5727,"r":0.01},{"w":5730,"r":-0.02},{"w":5733,"r":0.01},{"w":5736,"r":0.0},{"w":5739,"r":-0.02},{"w":5742,"r":0.02},{"w":5745,"r":-0.01},{"w":5748,"r":0.01},{"w":5751,"r":-0.01},{"w":5754,"r":0.02},{"w":5757,"r":0.0},{"w":5760,"r":-0.02},{"w":5763,"r":0.12},{"w":5765,"r":-0.12},{"w":5767,"r":0.03},{"w":5770,"r":-0.02},{"w":5773,"r":0.02},{"w":5776,"r":0.0},{"w":5779,"r":-0.03},{"w":5782,"r":0.01},{"w":5785,"r":-0.01},{"w":5788,"r":0.07},{"w":5791,"r":-0.02},{"w":5794,"r":0.03},{"w":5797,"r":0.0},{"w":5800,"r":-0.02},{"w":5803,"r":0.03},{"w":5806,"r":0.01},{"w":5809,"r":0.04},{"w":5812,"r":-0.01},{"w":5815,"r":0.02},{"w":5818,"r":0.0},{"w":5821,"r":0.04},{"w":5824,"r":0.01},{"w":5827,"r":0.0},{"w":5850,"r":0.0},{"w":5852,"r":-0.04},{"w":5854,"r":0.04},{"w":5856,"r":-0.07},{"w":5858,"r":0.02},{"w":5860,"r":-0.03},{"w":5862,"r":0.05},{"w":5864,"r":-0.02},{"w":5866,"r":0.03},{"w":5869,"r":0.0},{"w":5878,"r":0.0},{"w":5880,"r":0.15},{"w":5882,"r":-0.09},{"w":5884,"r":0.02},{"w":5886,"r":-0.12},{"w":5887,"r":0.0},{"w":5895,"r":0.0},{"w":5898,"r":0.04},{"w":5901,"r":-0.02},{"w":5904,"r":0.03},{"w":5907,"r":-0.01},{"w":5910,"r":0.02},{"w":5913,"r":-0.03},{"w":5916,"r":0.03},{"w":5919,"r":0.0},{"w":5922,"r":-0.02},{"w":5925,"r":0.02},{"w":5928,"r":0.0},{"w":5931,"r":0.03},{"w":5934,"r":-0.02},{"w":5937,"r":0.01},{"w":5940,"r":0.04},{"w":5943,"r":-0.01},{"w":5946,"r":0.02},{"w":5949,"r":0.0},{"w":5952,"r":0.03},{"w":5955,"r":-0.02},{"w":5958,"r":0.01},{"w":5961,"r":0.04},{"w":5964,"r":0.0},{"w":5967,"r":-0.02},{"w":5970,"r":0.03},{"w":5973,"r":0.0},{"w":5976,"r":-0.03},{"w":5979,"r":0.02},{"w":5982,"r":-0.01},{"w":5985,"r":0.05},{"w":5988,"r":-0.01},{"w":5991,"r":0.02},{"w":5994,"r":-0.02},{"w":5997,"r":0.01},{"w":6000,"r":-0.04},{"w":6003,"r":0.03},{"w":6006,"r":0.0},{"w":6009,"r":0.04},{"w":6012,"r":-0.02},{"w":6015,"r":0.02},{"w":6018,"r":-0.03},{"w":6021,"r":0.05},{"w":6024,"r":0.0},{"w":6027,"r":0.03},{"w":6030,"r":-0.02},{"w":6033,"r":0.04},{"w":6036,"r":-0.05},{"w":6039,"r":0.02},{"w":6042,"r":-0.01},{"w":6045,"r":0.06},{"w":6048,"r":0.0},{"w":6051,"r":-0.03},{"w":6054,"r":0.03},{"w":6057,"r":-0.02},{"w":6060,"r":0.05},{"w":6063,"r":-0.01},{"w":6066,"r":0.07},{"w":6069,"r":0.0},{"w":6072,"r":-0.03},{"w":6075,"r":0.02},{"w":6078,"r":-0.02},{"w":6081,"r":0.05},{"w":6084,"r":-0.04},{"w":6087,"r":0.03},{"w":6090,"r":-0.01},{"w":6093,"r":0.06},{"w":6096,"r":-0.02},{"w":6099,"r":0.04},{"w":6102,"r":-0.05},{"w":6105,"r":0.03},{"w":6108,"r":0.0},{"w":6111,"r":0.06},{"w":6114,"r":-0.03},{"w":6117,"r":0.05},{"w":6120,"r":-0.04},{"w":6123,"r":0.02},{"w":6126,"r":-0.02},{"w":6129,"r":0.07},{"w":6132,"r":-0.03},{"w":6135,"r":0.04},{"w":6138,"r":-0.06},{"w":6141,"r":0.02},{"w":6144,"r":0.05},{"w":6147,"r":-0.02},{"w":6150,"r":-0.1},{"w":6153,"r":0.03},{"w":6156,"r":0.08},{"w":6159,"r":-0.03},{"w":6162,"r":0.12},{"w":6165,"r":-0.04},{"w":6168,"r":0.06},{"w":6171,"r":-0.02},{"w":6174,"r":0.04},{"w":6177,"r":-0.07},{"w":6180,"r":0.03},{"w":6183,"r":0.09},{"w":6186,"r":-0.03},{"w":6189,"r":0.08},{"w":6192,"r":-0.05},{"w":6195,"r":0.06},{"w":6198,"r":-0.02},{"w":6201,"r":0.10},{"w":6204,"r":-0.06},{"w":6207,"r":0.03},{"w":6210,"r":-0.04},{"w":6213,"r":0.07},{"w":6216,"r":-0.05},{"w":6219,"r":0.02},{"w":6222,"r":-0.08},{"w":6225,"r":0.04},{"w":6226,"r":0.0},{"w":6241,"r":0.0}
    ],
    "err": [
      {"w":3732,"u":0.055,"l":-0.047},{"w":3760,"u":0.048,"l":-0.040},{"w":3790,"u":0.040,"l":-0.034},{"w":3830,"u":0.034,"l":-0.030},{"w":3870,"u":0.030,"l":-0.027},{"w":3950,"u":0.027,"l":-0.024},{"w":4100,"u":0.025,"l":-0.021},{"w":4300,"u":0.024,"l":-0.018},{"w":4500,"u":0.022,"l":-0.016},{"w":4800,"u":0.020,"l":-0.015},{"w":5000,"u":0.019,"l":-0.014},{"w":5300,"u":0.018,"l":-0.013},{"w":5515,"u":0.018,"l":-0.013},{"w":5522,"u":0.04,"l":-0.03},{"w":5526,"u":0.045,"l":-0.05},{"w":5530,"u":0.04,"l":-0.03},{"w":5536,"u":0.018,"l":-0.013},{"w":5700,"u":0.018,"l":-0.013},{"w":5825,"u":0.018,"l":-0.013},{"w":5833,"u":0.028,"l":-0.022},{"w":5840,"u":0.03,"l":-0.027},{"w":5848,"u":0.018,"l":-0.013},{"w":6100,"u":0.018,"l":-0.013},{"w":6225,"u":0.018,"l":-0.014},{"w":6232,"u":0.035,"l":-0.035},{"w":6238,"u":0.07,"l":-0.07},{"w":6241,"u":0.07,"l":-0.07}
    ],
    "mask": [
      {"w":3858},{"w":3875},{"w":3884},{"w":3892},{"w":3966},{"w":3976},{"w":4063},{"w":4077},{"w":4098},{"w":4106},{"w":4337},{"w":4346},{"w":4611},{"w":4622},{"w":4856},{"w":4874},{"w":4945},{"w":4972},{"w":5002},{"w":5018},{"w":5191},{"w":5207},{"w":5520},{"w":5535},{"w":5827},{"w":5850},{"w":5869},{"w":5878},{"w":5887},{"w":5895},{"w":6226},{"w":6236}
    ],
    "ga": [
      {"v":0.109,"a":0.12},{"v":0.112,"a":0.40},{"v":0.115,"a":0.20},{"v":0.118,"a":0.55},{"v":0.121,"a":0.35},{"v":0.124,"a":0.78},{"v":0.127,"a":0.60},{"v":0.130,"a":0.88},{"v":0.133,"a":0.70},{"v":0.136,"a":0.85},{"v":0.139,"a":0.72},{"v":0.142,"a":0.80},{"v":0.146,"a":0.70},{"v":0.150,"a":0.75},{"v":0.155,"a":0.68},{"v":0.160,"a":0.66},{"v":0.165,"a":0.62},{"v":0.170,"a":0.58},{"v":0.175,"a":0.52},{"v":0.180,"a":0.50},{"v":0.185,"a":0.49},{"v":0.190,"a":0.49},{"v":0.195,"a":0.48},{"v":0.200,"a":0.47},{"v":0.205,"a":0.46},{"v":0.210,"a":0.44},{"v":0.215,"a":0.40},{"v":0.220,"a":0.37},{"v":0.225,"a":0.34},{"v":0.230,"a":0.33},{"v":0.235,"a":0.31},{"v":0.240,"a":0.32},{"v":0.245,"a":0.30},{"v":0.250,"a":0.31},{"v":0.255,"a":0.29},{"v":0.260,"a":0.30},{"v":0.265,"a":0.27},{"v":0.270,"a":0.25},{"v":0.275,"a":0.22},{"v":0.280,"a":0.27},{"v":0.285,"a":0.26},{"v":0.290,"a":0.30},{"v":0.295,"a":0.31},{"v":0.300,"a":0.32},{"v":0.305,"a":0.33},{"v":0.310,"a":0.36},{"v":0.315,"a":0.37},{"v":0.320,"a":0.38},
      {"v":0.324,"a":0.28},{"v":0.327,"a":0.43},{"v":0.330,"a":0.30},{"v":0.333,"a":0.45},{"v":0.336,"a":0.25},{"v":0.339,"a":0.46},{"v":0.342,"a":0.30},{"v":0.345,"a":0.48},{"v":0.348,"a":0.27},{"v":0.351,"a":0.50},{"v":0.354,"a":0.32},{"v":0.357,"a":0.52},{"v":0.360,"a":0.28},{"v":0.363,"a":0.54},{"v":0.366,"a":0.33},{"v":0.369,"a":0.56},{"v":0.372,"a":0.25},{"v":0.375,"a":0.58},{"v":0.378,"a":0.35},{"v":0.381,"a":0.60},{"v":0.384,"a":0.22},{"v":0.387,"a":0.62},{"v":0.390,"a":0.50},{"v":0.393,"a":0.66},{"v":0.396,"a":0.55},{"v":0.399,"a":0.70},{"v":0.402,"a":0.62},{"v":0.405,"a":0.85},{"v":0.408,"a":0.68},{"v":0.411,"a":0.88},{"v":0.414,"a":0.72},{"v":0.417,"a":0.85},{"v":0.420,"a":0.60},{"v":0.423,"a":0.86},{"v":0.426,"a":0.74},{"v":0.429,"a":0.90},{"v":0.432,"a":0.76},{"v":0.435,"a":0.92},{"v":0.438,"a":0.62},{"v":0.441,"a":0.94},{"v":0.444,"a":0.82},{"v":0.447,"a":0.98},{"v":0.450,"a":0.86},{"v":0.453,"a":1.00},{"v":0.456,"a":0.90},{"v":0.459,"a":1.05},{"v":0.462,"a":0.92},{"v":0.465,"a":1.08},{"v":0.468,"a":0.95},{"v":0.471,"a":1.10},{"v":0.474,"a":0.98},{"v":0.477,"a":1.12},{"v":0.480,"a":0.74},{"v":0.483,"a":1.14},{"v":0.486,"a":0.95},{"v":0.489,"a":1.15},{"v":0.492,"a":1.00},{"v":0.495,"a":1.16},{"v":0.498,"a":0.98},{"v":0.501,"a":1.14},{"v":0.504,"a":0.98},{"v":0.507,"a":1.10},{"v":0.510,"a":0.96},{"v":0.513,"a":1.08},{"v":0.516,"a":0.70},{"v":0.519,"a":1.04},{"v":0.522,"a":0.98},{"v":0.525,"a":1.12},{"v":0.528,"a":1.02},{"v":0.531,"a":1.16},{"v":0.534,"a":1.05},{"v":0.537,"a":1.22},{"v":0.540,"a":1.06},{"v":0.543,"a":1.15},{"v":0.546,"a":1.05},{"v":0.549,"a":1.14},{"v":0.552,"a":1.04},{"v":0.555,"a":1.16},{"v":0.558,"a":1.08},{"v":0.561,"a":1.18},{"v":0.564,"a":1.10},{"v":0.567,"a":1.20},{"v":0.570,"a":1.12},{"v":0.573,"a":1.22},{"v":0.576,"a":1.12},{"v":0.579,"a":1.24},{"v":0.582,"a":1.10},{"v":0.585,"a":1.20},{"v":0.588,"a":0.77},{"v":0.591,"a":1.16},{"v":0.594,"a":1.05},{"v":0.597,"a":1.18},{"v":0.600,"a":1.06},{"v":0.603,"a":1.17},{"v":0.606,"a":1.08},{"v":0.609,"a":1.20},{"v":0.612,"a":1.05},{"v":0.615,"a":1.18},{"v":0.618,"a":0.95},{"v":0.621,"a":1.19},{"v":0.624,"a":1.08},{"v":0.627,"a":1.18},{"v":0.630,"a":1.06},{"v":0.633,"a":1.17},{"v":0.636,"a":1.08},{"v":0.639,"a":1.16},{"v":0.642,"a":1.06},{"v":0.645,"a":1.15},{"v":0.648,"a":1.05},{"v":0.651,"a":1.12},{"v":0.654,"a":0.84},{"v":0.657,"a":1.10},{"v":0.660,"a":1.05},{"v":0.663,"a":1.09},{"v":0.666,"a":1.05},{"v":0.669,"a":1.10},{"v":0.672,"a":1.06},{"v":0.675,"a":1.09},{"v":0.678,"a":1.05},{"v":0.681,"a":1.08},{"v":0.684,"a":1.06},{"v":0.687,"a":1.09},{"v":0.690,"a":1.05},{"v":0.693,"a":1.12},{"v":0.696,"a":1.08},{"v":0.699,"a":1.16},{"v":0.702,"a":1.10},{"v":0.705,"a":1.20},{"v":0.708,"a":1.12},{"v":0.711,"a":1.05},{"v":0.714,"a":0.96},{"v":0.717,"a":0.98},{"v":0.720,"a":1.05},{"v":0.723,"a":1.12},{"v":0.726,"a":1.10},{"v":0.729,"a":1.18},{"v":0.732,"a":1.12},{"v":0.735,"a":1.20},{"v":0.738,"a":1.14},{"v":0.741,"a":1.22},{"v":0.744,"a":1.15},{"v":0.747,"a":1.24},{"v":0.750,"a":1.16},{"v":0.753,"a":1.22},{"v":0.756,"a":1.12},{"v":0.759,"a":1.18},{"v":0.762,"a":1.08},{"v":0.765,"a":1.14},{"v":0.768,"a":0.93},{"v":0.771,"a":1.12},{"v":0.774,"a":1.06},{"v":0.777,"a":1.10},{"v":0.780,"a":1.05},{"v":0.783,"a":1.10},{"v":0.786,"a":1.06},{"v":0.789,"a":1.12},{"v":0.792,"a":1.08},{"v":0.795,"a":1.15},{"v":0.798,"a":1.10},{"v":0.801,"a":1.17},{"v":0.804,"a":1.10},{"v":0.807,"a":1.18},{"v":0.810,"a":1.11},{"v":0.813,"a":1.17},{"v":0.816,"a":1.09},{"v":0.819,"a":1.15},{"v":0.822,"a":1.06},{"v":0.825,"a":1.12},{"v":0.828,"a":1.05},{"v":0.831,"a":1.12},{"v":0.834,"a":1.04},{"v":0.837,"a":1.10},{"v":0.840,"a":1.04},{"v":0.843,"a":1.09},{"v":0.846,"a":1.03},{"v":0.849,"a":1.08},{"v":0.852,"a":0.62},{"v":0.855,"a":1.07},{"v":0.858,"a":1.02},{"v":0.861,"a":1.06},{"v":0.864,"a":0.65},{"v":0.867,"a":1.08},{"v":0.870,"a":1.01},{"v":0.873,"a":1.07},{"v":0.876,"a":1.00},{"v":0.879,"a":1.08},{"v":0.882,"a":1.02},{"v":0.885,"a":1.07},{"v":0.888,"a":1.00},{"v":0.891,"a":1.08},{"v":0.894,"a":0.98},{"v":0.897,"a":1.09},{"v":0.900,"a":1.00},{"v":0.903,"a":1.08},{"v":0.906,"a":0.98},{"v":0.909,"a":1.06},{"v":0.912,"a":0.88},{"v":0.915,"a":1.05},{"v":0.918,"a":0.96},{"v":0.921,"a":1.05},{"v":0.924,"a":1.00},{"v":0.927,"a":1.06},{"v":0.930,"a":1.03},
      {"v":0.940,"a":1.06},{"v":0.951,"a":1.08},{"v":0.960,"a":1.07},{"v":0.971,"a":1.08},{"v":0.980,"a":1.06},{"v":0.988,"a":1.07},{"v":1.000,"a":1.07},{"v":1.012,"a":1.08},{"v":1.025,"a":1.10},{"v":1.035,"a":1.13},{"v":1.041,"a":1.14},{"v":1.050,"a":1.12},{"v":1.062,"a":1.03},{"v":1.078,"a":0.98},{"v":1.090,"a":0.97},{"v":1.103,"a":0.96},{"v":1.120,"a":0.95},{"v":1.136,"a":0.95},{"v":1.150,"a":0.93},{"v":1.160,"a":0.92},{"v":1.175,"a":0.90},{"v":1.185,"a":0.88},{"v":1.200,"a":0.86},{"v":1.210,"a":0.85},{"v":1.226,"a":0.845},{"v":1.244,"a":0.844},{"v":1.270,"a":0.83},{"v":1.302,"a":0.82},{"v":1.343,"a":0.771},{"v":1.367,"a":0.739},{"v":1.384,"a":0.722},{"v":1.392,"a":0.657},{"v":1.408,"a":0.633},{"v":1.441,"a":0.633},{"v":1.466,"a":0.608},{"v":1.491,"a":0.633},{"v":1.528,"a":0.657},{"v":1.548,"a":0.641},{"v":1.581,"a":0.600},{"v":1.606,"a":0.608},{"v":1.630,"a":0.633},{"v":1.655,"a":0.616},{"v":1.671,"a":0.624},{"v":1.696,"a":0.624},{"v":1.721,"a":0.592},{"v":1.754,"a":0.543},{"v":1.787,"a":0.494},{"v":1.820,"a":0.445},{"v":1.844,"a":0.429},{"v":1.877,"a":0.388},{"v":1.926,"a":0.372},{"v":1.959,"a":0.347},{"v":1.992,"a":0.323},{"v":2.042,"a":0.306},{"v":2.091,"a":0.306},{"v":2.140,"a":0.298},{"v":2.173,"a":0.290},{"v":2.206,"a":0.274},{"v":2.239,"a":0.258},{"v":2.272,"a":0.249},{"v":2.288,"a":0.233},{"v":2.321,"a":0.184},{"v":2.362,"a":0.168},{"v":2.404,"a":0.152},{"v":2.436,"a":0.135},{"v":2.486,"a":0.103}
    ],
    "gb": [
      {"v":0.109,"b":0.10},{"v":0.112,"b":0.35},{"v":0.115,"b":0.15},{"v":0.118,"b":0.45},{"v":0.121,"b":0.30},{"v":0.124,"b":0.60},{"v":0.127,"b":0.45},{"v":0.130,"b":0.67},{"v":0.133,"b":0.55},{"v":0.136,"b":0.62},{"v":0.139,"b":0.52},{"v":0.142,"b":0.58},{"v":0.146,"b":0.52},{"v":0.150,"b":0.55},{"v":0.155,"b":0.50},{"v":0.160,"b":0.49},{"v":0.165,"b":0.47},{"v":0.170,"b":0.42},{"v":0.175,"b":0.36},{"v":0.180,"b":0.35},{"v":0.185,"b":0.35},{"v":0.190,"b":0.34},{"v":0.195,"b":0.35},{"v":0.200,"b":0.33},{"v":0.205,"b":0.34},{"v":0.210,"b":0.32},{"v":0.215,"b":0.30},{"v":0.220,"b":0.25},{"v":0.225,"b":0.21},{"v":0.230,"b":0.19},{"v":0.235,"b":0.20},{"v":0.240,"b":0.21},{"v":0.245,"b":0.19},{"v":0.250,"b":0.20},{"v":0.255,"b":0.18},{"v":0.260,"b":0.17},{"v":0.265,"b":0.16},{"v":0.270,"b":0.14},{"v":0.275,"b":0.15},{"v":0.280,"b":0.18},{"v":0.285,"b":0.20},{"v":0.290,"b":0.24},{"v":0.295,"b":0.26},{"v":0.300,"b":0.28},{"v":0.305,"b":0.28},{"v":0.310,"b":0.30},{"v":0.315,"b":0.30},{"v":0.320,"b":0.32},
      {"v":0.324,"b":0.22},{"v":0.327,"b":0.40},{"v":0.330,"b":0.26},{"v":0.333,"b":0.42},{"v":0.336,"b":0.20},{"v":0.339,"b":0.44},{"v":0.342,"b":0.24},{"v":0.345,"b":0.46},{"v":0.348,"b":0.22},{"v":0.351,"b":0.48},{"v":0.354,"b":0.26},{"v":0.357,"b":0.50},{"v":0.360,"b":0.22},{"v":0.363,"b":0.52},{"v":0.366,"b":0.28},{"v":0.369,"b":0.54},{"v":0.372,"b":0.20},{"v":0.375,"b":0.56},{"v":0.378,"b":0.30},{"v":0.381,"b":0.58},{"v":0.384,"b":0.18},{"v":0.387,"b":0.60},{"v":0.390,"b":0.48},{"v":0.393,"b":0.64},{"v":0.396,"b":0.52},{"v":0.399,"b":0.68},{"v":0.402,"b":0.58},{"v":0.405,"b":0.82},{"v":0.408,"b":0.66},{"v":0.411,"b":0.87},{"v":0.414,"b":0.70},{"v":0.417,"b":0.84},{"v":0.420,"b":0.58},{"v":0.423,"b":0.86},{"v":0.426,"b":0.73},{"v":0.429,"b":0.90},{"v":0.432,"b":0.75},{"v":0.435,"b":0.92},{"v":0.438,"b":0.60},{"v":0.441,"b":0.95},{"v":0.444,"b":0.82},{"v":0.447,"b":0.99},{"v":0.450,"b":0.86},{"v":0.453,"b":1.02},{"v":0.456,"b":0.90},{"v":0.459,"b":1.06},{"v":0.462,"b":0.92},{"v":0.465,"b":1.09},{"v":0.468,"b":0.96},{"v":0.471,"b":1.11},{"v":0.474,"b":0.99},{"v":0.477,"b":1.13},{"v":0.480,"b":0.76},{"v":0.483,"b":1.15},{"v":0.486,"b":0.96},{"v":0.489,"b":1.16},{"v":0.492,"b":1.01},{"v":0.495,"b":1.17},{"v":0.498,"b":0.99},{"v":0.501,"b":1.15},{"v":0.504,"b":0.99},{"v":0.507,"b":1.11},{"v":0.510,"b":0.97},{"v":0.513,"b":1.09},{"v":0.516,"b":0.68},{"v":0.519,"b":1.05},{"v":0.522,"b":0.99},{"v":0.525,"b":1.13},{"v":0.528,"b":1.03},{"v":0.531,"b":1.17},{"v":0.534,"b":1.06},{"v":0.537,"b":1.23},{"v":0.540,"b":1.07},{"v":0.543,"b":1.16},{"v":0.546,"b":1.06},{"v":0.549,"b":1.15},{"v":0.552,"b":1.05},{"v":0.555,"b":1.17},{"v":0.558,"b":1.09},{"v":0.561,"b":1.19},{"v":0.564,"b":1.11},{"v":0.567,"b":1.21},{"v":0.570,"b":1.13},{"v":0.573,"b":1.23},{"v":0.576,"b":1.13},{"v":0.579,"b":1.26},{"v":0.582,"b":1.11},{"v":0.585,"b":1.21},{"v":0.588,"b":0.76},{"v":0.591,"b":1.17},{"v":0.594,"b":1.06},{"v":0.597,"b":1.19},{"v":0.600,"b":1.07},{"v":0.603,"b":1.18},{"v":0.606,"b":1.09},{"v":0.609,"b":1.21},{"v":0.612,"b":1.06},{"v":0.615,"b":1.19},{"v":0.618,"b":0.96},{"v":0.621,"b":1.20},{"v":0.624,"b":1.09},{"v":0.627,"b":1.19},{"v":0.630,"b":1.07},{"v":0.633,"b":1.18},{"v":0.636,"b":1.09},{"v":0.639,"b":1.17},{"v":0.642,"b":1.07},{"v":0.645,"b":1.16},{"v":0.648,"b":1.06},{"v":0.651,"b":1.13},{"v":0.654,"b":0.86},{"v":0.657,"b":1.11},{"v":0.660,"b":1.06},{"v":0.663,"b":1.10},{"v":0.666,"b":1.06},{"v":0.669,"b":1.11},{"v":0.672,"b":1.07},{"v":0.675,"b":1.10},{"v":0.678,"b":1.06},{"v":0.681,"b":1.09},{"v":0.684,"b":1.07},{"v":0.687,"b":1.10},{"v":0.690,"b":1.06},{"v":0.693,"b":1.13},{"v":0.696,"b":1.09},{"v":0.699,"b":1.17},{"v":0.702,"b":1.11},{"v":0.705,"b":1.21},{"v":0.708,"b":1.13},{"v":0.711,"b":1.06},{"v":0.714,"b":0.98},{"v":0.717,"b":0.99},{"v":0.720,"b":1.06},{"v":0.723,"b":1.13},{"v":0.726,"b":1.11},{"v":0.729,"b":1.19},{"v":0.732,"b":1.13},{"v":0.735,"b":1.22},{"v":0.738,"b":1.15},{"v":0.741,"b":1.24},{"v":0.744,"b":1.17},{"v":0.747,"b":1.27},{"v":0.750,"b":1.18},{"v":0.753,"b":1.24},{"v":0.756,"b":1.13},{"v":0.759,"b":1.19},{"v":0.762,"b":1.09},{"v":0.765,"b":1.15},{"v":0.768,"b":0.95},{"v":0.771,"b":1.13},{"v":0.774,"b":1.07},{"v":0.777,"b":1.11},{"v":0.780,"b":1.06},{"v":0.783,"b":1.11},{"v":0.786,"b":1.07},{"v":0.789,"b":1.13},{"v":0.792,"b":1.09},{"v":0.795,"b":1.16},{"v":0.798,"b":1.11},{"v":0.801,"b":1.18},{"v":0.804,"b":1.11},{"v":0.807,"b":1.19},{"v":0.810,"b":1.12},{"v":0.813,"b":1.18},{"v":0.816,"b":1.10},{"v":0.819,"b":1.16},{"v":0.822,"b":1.07},{"v":0.825,"b":1.13},{"v":0.828,"b":1.06},{"v":0.831,"b":1.13},{"v":0.834,"b":1.05},{"v":0.837,"b":1.11},{"v":0.840,"b":1.05},{"v":0.843,"b":1.10},{"v":0.846,"b":1.04},{"v":0.849,"b":1.09},{"v":0.852,"b":0.64},{"v":0.855,"b":1.08},{"v":0.858,"b":1.03},{"v":0.861,"b":1.07},{"v":0.864,"b":0.67},{"v":0.867,"b":1.09},{"v":0.870,"b":1.02},{"v":0.873,"b":1.08},{"v":0.876,"b":1.01},{"v":0.879,"b":1.09},{"v":0.882,"b":1.03},{"v":0.885,"b":1.08},{"v":0.888,"b":1.01},{"v":0.891,"b":1.09},{"v":0.894,"b":0.99},{"v":0.897,"b":1.10},{"v":0.900,"b":1.01},{"v":0.903,"b":1.09},{"v":0.906,"b":0.99},{"v":0.909,"b":1.07},{"v":0.912,"b":0.90},{"v":0.915,"b":1.06},{"v":0.918,"b":0.97},{"v":0.921,"b":1.06},{"v":0.924,"b":1.01},{"v":0.927,"b":1.07},{"v":0.930,"b":1.04},
      {"v":0.940,"b":1.07},{"v":0.951,"b":1.12},{"v":0.971,"b":1.13},{"v":0.988,"b":1.12},{"v":1.000,"b":1.13},{"v":1.025,"b":1.17},{"v":1.041,"b":1.19},{"v":1.053,"b":1.18},{"v":1.062,"b":1.10},{"v":1.078,"b":1.06},{"v":1.103,"b":1.003},{"v":1.136,"b":0.99},{"v":1.160,"b":1.0},{"v":1.185,"b":0.954},{"v":1.210,"b":0.913},{"v":1.226,"b":0.88},{"v":1.244,"b":0.88},{"v":1.302,"b":0.856},{"v":1.367,"b":0.758},{"v":1.392,"b":0.685},{"v":1.416,"b":0.66},{"v":1.466,"b":0.644},{"v":1.491,"b":0.667},{"v":1.532,"b":0.693},{"v":1.565,"b":0.676},{"v":1.581,"b":0.636},{"v":1.606,"b":0.644},{"v":1.630,"b":0.66},{"v":1.663,"b":0.655},{"v":1.696,"b":0.652},{"v":1.729,"b":0.603},{"v":1.778,"b":0.538},{"v":1.811,"b":0.48},{"v":1.861,"b":0.431},{"v":1.894,"b":0.407},{"v":1.943,"b":0.366},{"v":1.984,"b":0.35},{"v":2.042,"b":0.325},{"v":2.091,"b":0.317},{"v":2.140,"b":0.309},{"v":2.189,"b":0.292},{"v":2.239,"b":0.276},{"v":2.272,"b":0.26},{"v":2.288,"b":0.235},{"v":2.313,"b":0.194},{"v":2.370,"b":0.17},{"v":2.420,"b":0.145},{"v":2.486,"b":0.116}
    ],
    "p1": [
      {"v":0.154,"obs":0.567,"lo":0.44,"hi":0.694,"mod":0.473,"res":0.10},
      {"v":0.227,"obs":0.339,"lo":0.31,"hi":0.37,"mod":0.364,"res":-0.031},
      {"v":0.360,"obs":0.559,"lo":0.51,"hi":0.61,"mod":0.502,"res":0.054},
      {"v":0.476,"obs":0.991,"lo":0.94,"hi":1.05,"mod":1.073,"res":-0.073},
      {"v":0.620,"obs":1.162,"lo":1.10,"hi":1.22,"mod":1.125,"res":0.034},
      {"v":0.762,"obs":1.122,"lo":1.08,"hi":1.16,"mod":1.089,"res":0.037},
      {"v":0.904,"obs":1.032,"lo":0.977,"hi":1.087,"mod":1.032,"res":-0.003},
      {"v":1.224,"obs":0.845,"lo":0.825,"hi":0.865,"mod":0.836,"res":-0.008},
      {"v":1.636,"obs":0.657,"lo":0.632,"hi":0.682,"mod":0.628,"res":0.029},
      {"v":2.194,"obs":0.298,"lo":0.288,"hi":0.308,"mod":0.298,"res":-0.003}
    ],
    "p2": [
      {"v":0.154,"obs":0.423,"lo":0.325,"hi":0.515,"mod":0.464,"res":-0.046},
      {"v":0.227,"obs":0.345,"lo":0.315,"hi":0.375,"mod":0.350,"res":-0.015},
      {"v":0.360,"obs":0.562,"lo":0.52,"hi":0.60,"mod":0.497,"res":0.056},
      {"v":0.476,"obs":1.008,"lo":0.95,"hi":1.06,"mod":1.069,"res":-0.062},
      {"v":0.620,"obs":1.178,"lo":1.12,"hi":1.24,"mod":1.131,"res":0.047},
      {"v":0.762,"obs":1.101,"lo":1.06,"hi":1.14,"mod":1.101,"res":0.011},
      {"v":0.904,"obs":1.028,"lo":0.97,"hi":1.085,"mod":1.028,"res":-0.01},
      {"v":1.224,"obs":0.856,"lo":0.836,"hi":0.876,"mod":0.848,"res":0.011},
      {"v":1.636,"obs":0.668,"lo":0.643,"hi":0.693,"mod":0.627,"res":0.039},
      {"v":2.194,"obs":0.292,"lo":0.282,"hi":0.302,"mod":0.292,"res":-0.007}
    ]
  },
  "vconcat": [
    {
      "width": 1178, "height": 369,
      "resolve": {"scale": {"x": "independent", "y": "independent"}},
      "layer": [
        {
          "layer": [
            {
              "data": {"name": "mask"},
              "mark": {"type": "rule", "color": "#00ffff", "strokeWidth": 1, "clip": true},
              "encoding": {
                "x": {"field": "w", "type": "quantitative", "scale": {"domain": [3732, 6241], "nice": false, "zero": false},
                  "axis": {"orient": "bottom", "values": [3800,4000,4200,4400,4600,4800,5000,5200,5400,5600,5800,6000,6200], "tickSize": {"condition": {"test": "datum.value % 1000 === 0", "value": -14}, "value": -9}, "labelExpr": "datum.value % 1000 === 0 ? format(datum.value, 'd') : ''", "labelPadding": 28, "labelOverlap": false, "title": "Wavelength (Angstroem)", "titleX": 603, "titleY": 64, "titleBaseline": "middle", "titleAlign": "center"}},
                "y": {"datum": 0, "type": "quantitative", "scale": {"domain": [-0.096, 1.304], "nice": false, "zero": false},
                  "axis": {"orient": "left", "values": [0, 0.5, 1], "tickSize": -14, "format": ".1f", "labelPadding": 23, "labelOverlap": false, "title": "Norm. Flux", "titleX": -67, "titleY": 170, "titleBaseline": "middle", "titleAlign": "center", "titleAngle": 270}},
                "y2": {"datum": 1.4}
              }
            },
            {
              "data": {"name": "res"},
              "mark": {"type": "line", "color": "#ff00ff", "strokeWidth": 1, "clip": true},
              "encoding": {
                "x": {"field": "w", "type": "quantitative", "scale": {"domain": [3732, 6241], "nice": false, "zero": false}},
                "y": {"field": "r", "type": "quantitative", "scale": {"domain": [-0.096, 1.304], "nice": false, "zero": false}}
              }
            },
            {
              "data": {"name": "err"},
              "mark": {"type": "line", "color": "#00ff00", "strokeWidth": 1, "clip": true},
              "encoding": {
                "x": {"field": "w", "type": "quantitative", "scale": {"domain": [3732, 6241], "nice": false, "zero": false}},
                "y": {"field": "u", "type": "quantitative", "scale": {"domain": [-0.096, 1.304], "nice": false, "zero": false}}
              }
            },
            {
              "data": {"name": "err"},
              "mark": {"type": "line", "color": "#00ff00", "strokeWidth": 1, "clip": true},
              "encoding": {
                "x": {"field": "w", "type": "quantitative", "scale": {"domain": [3732, 6241], "nice": false, "zero": false}},
                "y": {"field": "l", "type": "quantitative", "scale": {"domain": [-0.096, 1.304], "nice": false, "zero": false}}
              }
            },
            {
              "data": {"name": "spec"},
              "mark": {"type": "line", "color": "#000000", "strokeWidth": 1.2, "clip": true},
              "encoding": {
                "x": {"field": "w", "type": "quantitative", "scale": {"domain": [3732, 6241], "nice": false, "zero": false}},
                "y": {"field": "o", "type": "quantitative", "scale": {"domain": [-0.096, 1.304], "nice": false, "zero": false}}
              }
            },
            {
              "data": {"name": "spec"},
              "mark": {"type": "line", "color": "#ff0000", "strokeWidth": 1.1, "clip": true},
              "encoding": {
                "x": {"field": "w", "type": "quantitative", "scale": {"domain": [3732, 6241], "nice": false, "zero": false}},
                "y": {"field": "m", "type": "quantitative", "scale": {"domain": [-0.096, 1.304], "nice": false, "zero": false}}
              }
            },
            {
              "data": {"values": [{"t": "NGC 4388 Inner Spectrum"}]},
              "mark": {"type": "text", "fontSize": 28, "align": "left", "baseline": "middle", "clip": false},
              "encoding": {
                "x": {"datum": 4735, "type": "quantitative", "scale": {"domain": [3732, 6241], "nice": false, "zero": false}},
                "y": {"datum": 1.389, "type": "quantitative", "scale": {"domain": [-0.096, 1.304], "nice": false, "zero": false}},
                "text": {"field": "t"}
              }
            }
          ]
        },
        {
          "data": {"values": [{"k": 1}]},
          "mark": {"type": "point", "opacity": 0},
          "encoding": {
            "x": {"datum": 5000, "type": "quantitative", "scale": {"domain": [3732, 6241], "nice": false, "zero": false},
              "axis": {"orient": "top", "values": [3800,4000,4200,4400,4600,4800,5000,5200,5400,5600,5800,6000,6200], "tickSize": {"condition": {"test": "datum.value % 1000 === 0", "value": -14}, "value": -9}, "labels": false, "title": null, "minExtent": 0, "maxExtent": 0}},
            "y": {"datum": 0.5, "type": "quantitative", "scale": {"domain": [-0.096, 1.304], "nice": false, "zero": false},
              "axis": {"orient": "right", "values": [0,0.1,0.2,0.3,0.4,0.5,0.6,0.7,0.8,0.9,1,1.1,1.2,1.3], "tickSize": {"condition": {"test": "abs(datum.value*2-round(datum.value*2)) < 0.001", "value": -14}, "value": -9}, "labels": false, "title": null, "minExtent": 0, "maxExtent": 0}}
          }
        },
        {
          "data": {"values": [{"k": 1}]},
          "mark": {"type": "point", "opacity": 0},
          "encoding": {
            "x": {"datum": 5000, "type": "quantitative", "scale": {"domain": [3732, 6241], "nice": false, "zero": false}, "axis": null},
            "y": {"datum": 0.5, "type": "quantitative", "scale": {"domain": [-0.096, 1.304], "nice": false, "zero": false},
              "axis": {"orient": "left", "values": [0.1,0.2,0.3,0.4,0.6,0.7,0.8,0.9,1.1,1.2,1.3], "tickSize": -9, "labels": false, "title": null, "minExtent": 0, "maxExtent": 0}}
          }
        }
      ]
    },
    {
      "width": 1178, "height": 369,
      "resolve": {"scale": {"x": "independent", "y": "independent"}},
      "layer": [
        {
          "layer": [
            {
              "data": {"name": "ga"},
              "mark": {"type": "line", "color": "#00ff00", "strokeWidth": 1, "strokeDash": [1, 3], "clip": true},
              "encoding": {
                "x": {"field": "v", "type": "quantitative", "scale": {"domain": [0.108, 2.4895], "nice": false, "zero": false},
                  "axis": {"orient": "bottom", "values": [0.2,0.3,0.4,0.5,0.6,0.7,0.8,0.9,1,1.1,1.2,1.3,1.4,1.5,1.6,1.7,1.8,1.9,2,2.1,2.2,2.3,2.4], "tickSize": {"condition": {"test": "abs(datum.value*2-round(datum.value*2)) < 0.001", "value": -14}, "value": -9}, "labelExpr": "abs(datum.value*2-round(datum.value*2)) < 0.001 ? format(datum.value, '.1f') : ''", "labelPadding": 28, "labelOverlap": false, "title": "Wavelength (Angstroem)", "titleX": 603, "titleY": 64, "titleBaseline": "middle", "titleAlign": "center"}},
                "y": {"field": "a", "type": "quantitative", "scale": {"domain": [-0.2, 1.6], "nice": false, "zero": false},
                  "axis": {"orient": "left", "values": [0, 0.5, 1, 1.5], "tickSize": -14, "format": ".1f", "labelPadding": 23, "labelOverlap": false, "title": "Norm. Flux", "titleX": -67, "titleY": 170, "titleBaseline": "middle", "titleAlign": "center", "titleAngle": 270}}
              }
            },
            {
              "data": {"values": [{"k": 1}]},
              "mark": {"type": "rule", "color": "#0000ff", "strokeWidth": 1.5, "clip": true},
              "encoding": {
                "x": {"datum": 0.133, "type": "quantitative", "scale": {"domain": [0.108, 2.4895], "nice": false, "zero": false}},
                "x2": {"datum": 2.4895},
                "y": {"datum": 0, "type": "quantitative", "scale": {"domain": [-0.2, 1.6], "nice": false, "zero": false}}
              }
            },
            {
              "data": {"name": "p1"},
              "mark": {"type": "rule", "color": "#000000", "strokeWidth": 1.2},
              "encoding": {
                "x": {"field": "v", "type": "quantitative", "scale": {"domain": [0.108, 2.4895], "nice": false, "zero": false}},
                "y": {"field": "lo", "type": "quantitative", "scale": {"domain": [-0.2, 1.6], "nice": false, "zero": false}},
                "y2": {"field": "hi"}
              }
            },
            {
              "data": {"name": "p1"},
              "mark": {"type": "point", "shape": "M-1,-1L1,1M-1,1L1,-1", "filled": false, "stroke": "#000000", "strokeWidth": 1.6, "size": 500, "opacity": 1},
              "encoding": {
                "x": {"field": "v", "type": "quantitative", "scale": {"domain": [0.108, 2.4895], "nice": false, "zero": false}},
                "y": {"field": "obs", "type": "quantitative", "scale": {"domain": [-0.2, 1.6], "nice": false, "zero": false}}
              }
            },
            {
              "data": {"name": "p1"},
              "mark": {"type": "point", "shape": "M-1,-1L1,1M-1,1L1,-1", "filled": false, "stroke": "#ff0000", "strokeWidth": 1.6, "size": 500, "opacity": 1},
              "encoding": {
                "x": {"field": "v", "type": "quantitative", "scale": {"domain": [0.108, 2.4895], "nice": false, "zero": false}},
                "y": {"field": "mod", "type": "quantitative", "scale": {"domain": [-0.2, 1.6], "nice": false, "zero": false}}
              }
            },
            {
              "data": {"name": "p1"},
              "mark": {"type": "point", "shape": "M-1,0L1,0M0,-1L0,1", "filled": false, "stroke": "#ff00ff", "strokeWidth": 1.6, "size": 870, "opacity": 1},
              "encoding": {
                "x": {"field": "v", "type": "quantitative", "scale": {"domain": [0.108, 2.4895], "nice": false, "zero": false}},
                "y": {"field": "res", "type": "quantitative", "scale": {"domain": [-0.2, 1.6], "nice": false, "zero": false}}
              }
            },
            {
              "data": {"values": [{"t": "10"}]},
              "mark": {"type": "text", "fontSize": 25, "align": "center", "baseline": "middle", "clip": false},
              "encoding": {
                "x": {"datum": 1.731, "type": "quantitative", "scale": {"domain": [0.108, 2.4895], "nice": false, "zero": false}},
                "y": {"datum": -0.46, "type": "quantitative", "scale": {"domain": [-0.2, 1.6], "nice": false, "zero": false}},
                "text": {"field": "t"}
              }
            },
            {
              "data": {"values": [{"t": "+4"}]},
              "mark": {"type": "text", "fontSize": 17, "align": "center", "baseline": "middle", "clip": false},
              "encoding": {
                "x": {"datum": 1.777, "type": "quantitative", "scale": {"domain": [0.108, 2.4895], "nice": false, "zero": false}},
                "y": {"datum": -0.425, "type": "quantitative", "scale": {"domain": [-0.2, 1.6], "nice": false, "zero": false}},
                "text": {"field": "t"}
              }
            },
            {
              "data": {"values": [{"t": "NGC 4388 Inner Photo"}]},
              "mark": {"type": "text", "fontSize": 28, "align": "left", "baseline": "middle", "clip": false},
              "encoding": {
                "x": {"datum": 1.060, "type": "quantitative", "scale": {"domain": [0.108, 2.4895], "nice": false, "zero": false}},
                "y": {"datum": 1.71, "type": "quantitative", "scale": {"domain": [-0.2, 1.6], "nice": false, "zero": false}},
                "text": {"field": "t"}
              }
            }
          ]
        },
        {
          "data": {"values": [{"k": 1}]},
          "mark": {"type": "point", "opacity": 0},
          "encoding": {
            "x": {"datum": 1, "type": "quantitative", "scale": {"domain": [0.108, 2.4895], "nice": false, "zero": false},
              "axis": {"orient": "top", "values": [0.2,0.3,0.4,0.5,0.6,0.7,0.8,0.9,1,1.1,1.2,1.3,1.4,1.5,1.6,1.7,1.8,1.9,2,2.1,2.2,2.3,2.4], "tickSize": {"condition": {"test": "abs(datum.value*2-round(datum.value*2)) < 0.001", "value": -14}, "value": -9}, "labels": false, "title": null, "minExtent": 0, "maxExtent": 0}},
            "y": {"datum": 0.5, "type": "quantitative", "scale": {"domain": [-0.2, 1.6], "nice": false, "zero": false},
              "axis": {"orient": "right", "values": [-0.2,-0.1,0,0.1,0.2,0.3,0.4,0.5,0.6,0.7,0.8,0.9,1,1.1,1.2,1.3,1.4,1.5,1.6], "tickSize": {"condition": {"test": "abs(datum.value*2-round(datum.value*2)) < 0.001", "value": -14}, "value": -9}, "labels": false, "title": null, "minExtent": 0, "maxExtent": 0}}
          }
        },
        {
          "data": {"values": [{"k": 1}]},
          "mark": {"type": "point", "opacity": 0},
          "encoding": {
            "x": {"datum": 1, "type": "quantitative", "scale": {"domain": [0.108, 2.4895], "nice": false, "zero": false}, "axis": null},
            "y": {"datum": 0.5, "type": "quantitative", "scale": {"domain": [-0.2, 1.6], "nice": false, "zero": false},
              "axis": {"orient": "left", "values": [-0.2,-0.1,0.1,0.2,0.3,0.4,0.6,0.7,0.8,0.9,1.1,1.2,1.3,1.4,1.6], "tickSize": -9, "labels": false, "title": null, "minExtent": 0, "maxExtent": 0}}
          }
        }
      ]
    },
    {
      "width": 1178, "height": 369,
      "resolve": {"scale": {"x": "independent", "y": "independent"}},
      "layer": [
        {
          "layer": [
            {
              "data": {"name": "gb"},
              "mark": {"type": "line", "color": "#00ff00", "strokeWidth": 1, "strokeDash": [1, 3], "clip": true},
              "encoding": {
                "x": {"field": "v", "type": "quantitative", "scale": {"domain": [0.108, 2.4895], "nice": false, "zero": false},
                  "axis": {"orient": "bottom", "values": [0.2,0.3,0.4,0.5,0.6,0.7,0.8,0.9,1,1.1,1.2,1.3,1.4,1.5,1.6,1.7,1.8,1.9,2,2.1,2.2,2.3,2.4], "tickSize": {"condition": {"test": "abs(datum.value*2-round(datum.value*2)) < 0.001", "value": -14}, "value": -9}, "labelExpr": "abs(datum.value*2-round(datum.value*2)) < 0.001 ? format(datum.value, '.1f') : ''", "labelPadding": 28, "labelOverlap": false, "title": "Wavelength (Angstroem)", "titleX": 603, "titleY": 64, "titleBaseline": "middle", "titleAlign": "center"}},
                "y": {"field": "b", "type": "quantitative", "scale": {"domain": [-0.2, 1.6], "nice": false, "zero": false},
                  "axis": {"orient": "left", "values": [0, 0.5, 1, 1.5], "tickSize": -14, "format": ".1f", "labelPadding": 23, "labelOverlap": false, "title": "Norm. Flux", "titleX": -67, "titleY": 170, "titleBaseline": "middle", "titleAlign": "center", "titleAngle": 270}}
              }
            },
            {
              "data": {"values": [{"k": 1}]},
              "mark": {"type": "rule", "color": "#0000ff", "strokeWidth": 1.5, "clip": true},
              "encoding": {
                "x": {"datum": 0.117, "type": "quantitative", "scale": {"domain": [0.108, 2.4895], "nice": false, "zero": false}},
                "x2": {"datum": 2.4895},
                "y": {"datum": 0, "type": "quantitative", "scale": {"domain": [-0.2, 1.6], "nice": false, "zero": false}}
              }
            },
            {
              "data": {"name": "p2"},
              "mark": {"type": "rule", "color": "#000000", "strokeWidth": 1.2},
              "encoding": {
                "x": {"field": "v", "type": "quantitative", "scale": {"domain": [0.108, 2.4895], "nice": false, "zero": false}},
                "y": {"field": "lo", "type": "quantitative", "scale": {"domain": [-0.2, 1.6], "nice": false, "zero": false}},
                "y2": {"field": "hi"}
              }
            },
            {
              "data": {"name": "p2"},
              "mark": {"type": "point", "shape": "M-1,-1L1,1M-1,1L1,-1", "filled": false, "stroke": "#000000", "strokeWidth": 1.6, "size": 500, "opacity": 1},
              "encoding": {
                "x": {"field": "v", "type": "quantitative", "scale": {"domain": [0.108, 2.4895], "nice": false, "zero": false}},
                "y": {"field": "obs", "type": "quantitative", "scale": {"domain": [-0.2, 1.6], "nice": false, "zero": false}}
              }
            },
            {
              "data": {"name": "p2"},
              "mark": {"type": "point", "shape": "M-1,-1L1,1M-1,1L1,-1", "filled": false, "stroke": "#ff0000", "strokeWidth": 1.6, "size": 500, "opacity": 1},
              "encoding": {
                "x": {"field": "v", "type": "quantitative", "scale": {"domain": [0.108, 2.4895], "nice": false, "zero": false}},
                "y": {"field": "mod", "type": "quantitative", "scale": {"domain": [-0.2, 1.6], "nice": false, "zero": false}}
              }
            },
            {
              "data": {"name": "p2"},
              "mark": {"type": "point", "shape": "M-1,0L1,0M0,-1L0,1", "filled": false, "stroke": "#ff00ff", "strokeWidth": 1.6, "size": 870, "opacity": 1},
              "encoding": {
                "x": {"field": "v", "type": "quantitative", "scale": {"domain": [0.108, 2.4895], "nice": false, "zero": false}},
                "y": {"field": "res", "type": "quantitative", "scale": {"domain": [-0.2, 1.6], "nice": false, "zero": false}}
              }
            },
            {
              "data": {"values": [{"t": "10"}]},
              "mark": {"type": "text", "fontSize": 25, "align": "center", "baseline": "middle", "clip": false},
              "encoding": {
                "x": {"datum": 1.731, "type": "quantitative", "scale": {"domain": [0.108, 2.4895], "nice": false, "zero": false}},
                "y": {"datum": -0.46, "type": "quantitative", "scale": {"domain": [-0.2, 1.6], "nice": false, "zero": false}},
                "text": {"field": "t"}
              }
            },
            {
              "data": {"values": [{"t": "+4"}]},
              "mark": {"type": "text", "fontSize": 17, "align": "center", "baseline": "middle", "clip": false},
              "encoding": {
                "x": {"datum": 1.777, "type": "quantitative", "scale": {"domain": [0.108, 2.4895], "nice": false, "zero": false}},
                "y": {"datum": -0.425, "type": "quantitative", "scale": {"domain": [-0.2, 1.6], "nice": false, "zero": false}},
                "text": {"field": "t"}
              }
            },
            {
              "data": {"values": [{"t": "NGC 4388 Inner Photo"}]},
              "mark": {"type": "text", "fontSize": 28, "align": "left", "baseline": "middle", "clip": false},
              "encoding": {
                "x": {"datum": 1.060, "type": "quantitative", "scale": {"domain": [0.108, 2.4895], "nice": false, "zero": false}},
                "y": {"datum": 1.71, "type": "quantitative", "scale": {"domain": [-0.2, 1.6], "nice": false, "zero": false}},
                "text": {"field": "t"}
              }
            }
          ]
        },
        {
          "data": {"values": [{"k": 1}]},
          "mark": {"type": "point", "opacity": 0},
          "encoding": {
            "x": {"datum": 1, "type": "quantitative", "scale": {"domain": [0.108, 2.4895], "nice": false, "zero": false},
              "axis": {"orient": "top", "values": [0.2,0.3,0.4,0.5,0.6,0.7,0.8,0.9,1,1.1,1.2,1.3,1.4,1.5,1.6,1.7,1.8,1.9,2,2.1,2.2,2.3,2.4], "tickSize": {"condition": {"test": "abs(datum.value*2-round(datum.value*2)) < 0.001", "value": -14}, "value": -9}, "labels": false, "title": null, "minExtent": 0, "maxExtent": 0}},
            "y": {"datum": 0.5, "type": "quantitative", "scale": {"domain": [-0.2, 1.6], "nice": false, "zero": false},
              "axis": {"orient": "right", "values": [-0.2,-0.1,0,0.1,0.2,0.3,0.4,0.5,0.6,0.7,0.8,0.9,1,1.1,1.2,1.3,1.4,1.5,1.6], "tickSize": {"condition": {"test": "abs(datum.value*2-round(datum.value*2)) < 0.001", "value": -14}, "value": -9}, "labels": false, "title": null, "minExtent": 0, "maxExtent": 0}}
          }
        },
        {
          "data": {"values": [{"k": 1}]},
          "mark": {"type": "point", "opacity": 0},
          "encoding": {
            "x": {"datum": 1, "type": "quantitative", "scale": {"domain": [0.108, 2.4895], "nice": false, "zero": false}, "axis": null},
            "y": {"datum": 0.5, "type": "quantitative", "scale": {"domain": [-0.2, 1.6], "nice": false, "zero": false},
              "axis": {"orient": "left", "values": [-0.2,-0.1,0.1,0.2,0.3,0.4,0.6,0.7,0.8,0.9,1.1,1.2,1.3,1.4,1.6], "tickSize": -9, "labels": false, "title": null, "minExtent": 0, "maxExtent": 0}}
          }
        }
      ]
    }
  ]
}
